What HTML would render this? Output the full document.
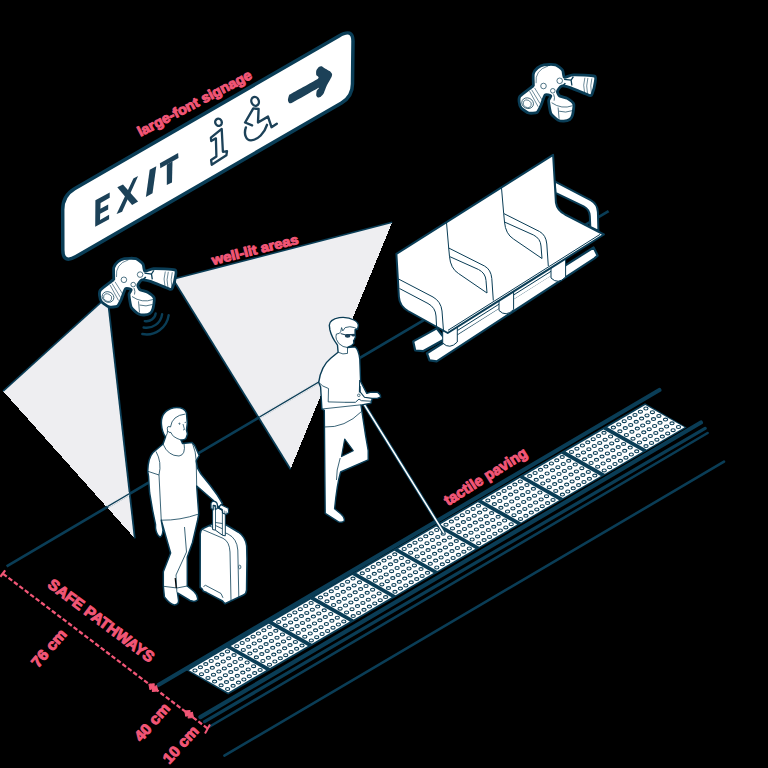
<!DOCTYPE html>
<html><head><meta charset="utf-8"><title>Accessible station</title>
<style>
html,body{margin:0;padding:0;background:#000;}
body{width:768px;height:768px;overflow:hidden;font-family:"Liberation Sans",sans-serif;}
svg{display:block}
</style></head><body>
<svg width="768" height="768" viewBox="0 0 768 768">
<rect width="768" height="768" fill="#000"/>
<polygon points="104,299.6 3.1,391.2 134.8,538.4 108.3,304" fill="#eeeef1" shape-rendering="crispEdges"/>
<polyline points="3.1,391.2 104,299.6" fill="none" stroke="#0a3d56" stroke-width="1.6"/>
<polyline points="108.3,304 134.8,538.4" fill="none" stroke="#0a3d56" stroke-width="1.8"/>
<polygon points="175.5,278.6 392.2,222.3 290.5,469.2 175.5,283.2" fill="#eeeef1" shape-rendering="crispEdges"/>
<polyline points="392.2,222.3 175.5,278.6" fill="none" stroke="#0a3d56" stroke-width="1.6"/><polyline points="175.5,283.2 290.5,469.2" fill="none" stroke="#0a3d56" stroke-width="1.7"/>
<line x1="6.6" y1="566.4" x2="608.6" y2="211.1" stroke="#0a3d56" stroke-width="2.7"/>
<clipPath id="cl1"><polygon points="104,303.5 4.5,391 134,536 107.6,306"/><polygon points="177,280 390.5,224 290.5,467 177,284.5"/></clipPath>
<g clip-path="url(#cl1)"><line x1="5" y1="567" x2="608.6" y2="211.1" stroke="#eeeef1" stroke-width="3.4"/><line x1="5" y1="567" x2="608.6" y2="211.1" stroke="#0a3d56" stroke-width="1.3"/></g>
<polygon points="413.2,341.4 436.7,328.4 445.0,339.0 423.0,351.2 415.2,350.5" fill="#ffffff" stroke="#0a3d56" stroke-width="2.2" stroke-linejoin="round"/>
<line x1="431" y1="347.5" x2="442" y2="341.2" stroke="#0a3d56" stroke-width="1" stroke-dasharray="1 1.2"/>
<polygon points="426.9,353.2 593.6,247.5 597.6,255.6 594.5,258.3 436.7,361.4 429.5,360.3" fill="#ffffff" stroke="#0a3d56" stroke-width="2.2" stroke-linejoin="round"/>
<polygon points="450.0,331.0 553.0,266.5 553.0,274.5 450.0,339.0" fill="#ffffff"/>
<path d="M457.3,330.6 L551,271.3" stroke="#0a3d56" stroke-width="1" fill="none"/>
<path d="M442.7,331.5 L442.7,343.0 Q449.7,350.0 457.3,342.0 L457.3,323.5 Z" fill="#ffffff" stroke="#0a3d56" stroke-width="1"/>
<path d="M499,299 L499,310.5 Q506,317.5 513.6,309.5 L513.6,291 Z" fill="#ffffff" stroke="#0a3d56" stroke-width="1"/>
<path d="M551,266.5 L551,278.0 Q558,285.0 565.6,277.0 L565.6,258.5 Z" fill="#ffffff" stroke="#0a3d56" stroke-width="1"/>
<path d="M554.7,181.4 L590.6,200.2 Q597.5,204 597.9,212 L598.4,231 L590.3,227 L589.8,216 Q589.5,209.5 583.6,206.4 L555.5,192.8 Z" fill="#ffffff" stroke="#0a3d56" stroke-width="2" stroke-linejoin="round"/>
<path d="M396.4,253.8 L553.1,154.8 L555.9,202.5 Q557,210 565,214.5 L603.9,234.5 L447.7,333 L408,311 Q399.5,306 398.9,297 Z" fill="#ffffff" stroke="#0a3d56" stroke-width="2" stroke-linejoin="round"/>
<path d="M448,330.3 L600,234.4" fill="none" stroke="#0a3d56" stroke-width="1"/>
<path d="M446.5,222.5 L448.7,248.0 L484.5,266.0 Q491.0,269.5 491.8,278.5 L493.3,300.5" fill="none" stroke="#0a3d56" stroke-width="1"/>
<path d="M448.7,248.0 L449.5,256.5 Q450.5,268.5 458.5,273.5 L487.0,293.0 L486.0,280.5 Q485.5,273.0 478.5,269.5 L449.5,256.5" fill="none" stroke="#0a3d56" stroke-width="1"/>
<path d="M501.5,188 L503.7,213.5 L539.5,231.5 Q546.0,235 546.8,244 L548.3,266" fill="none" stroke="#0a3d56" stroke-width="1"/>
<path d="M503.7,213.5 L504.5,222 Q505.5,234 513.5,239 L542.0,258.5 L541.0,246 Q540.5,238.5 533.5,235 L504.5,222" fill="none" stroke="#0a3d56" stroke-width="1"/>
<path d="M398.5,279 L433,297 Q441,301.5 442,311 L443.5,331 M399.5,288.5 L428,303.5 Q435.5,307.5 436,316 L436.6,327" fill="none" stroke="#0a3d56" stroke-width="1"/>
<path d="M62.7,210 Q62.6,195.8 74.5,188.8 L339,35.9 Q352.9,27.9 353,41 L352.5,84 Q352.5,96.6 341.5,103 L76,256.6 Q62.9,264 62.8,250 Z" fill="#ffffff" stroke="#0a3d56" stroke-width="3.5" stroke-linejoin="round"/>
<polygon points="95.4,200.3 109.7,192.5 109.7,197.7 100.6,203.0 100.4,208.8 108.2,204.6 108.2,209.5 100.2,213.8 100.0,219.9 109.1,214.7 109.1,219.2 95.2,226.8" fill="#1c4158"/>
<polygon points="117.3,187.3 123.0,184.5 138.1,201.6 132.1,204.9" fill="#1c4158"/>
<polygon points="133.4,178.6 138.1,176.0 122.1,211.7 116.6,214.0" fill="#1c4158"/>
<polygon points="149.7,169.7 156.3,166.3 152.5,193.2 145.9,196.9" fill="#1c4158"/>
<polygon points="159.9,163.2 178.1,153.1 178.5,158.0 160.3,168.2" fill="#1c4158"/>
<polygon points="166.8,164.5 172.5,161.3 172.0,182.5 166.8,185.1" fill="#1c4158"/>
<ellipse cx="218.5" cy="122.3" rx="3.3" ry="3.7" fill="none" stroke="#1c4158" stroke-width="2.3" transform="rotate(-20 218.5 122.3)"/>
<polygon points="210.9,137.7 221.7,128.9 222.9,151.8 227.0,151.2 226.4,155.3 211.7,164.7 211.1,160.0 216.4,156.5 215.9,138.3 211.2,141.0" fill="none" stroke="#1c4158" stroke-width="2.3" stroke-linejoin="round"/>
<ellipse cx="255.1" cy="101.4" rx="3.7" ry="4.5" fill="none" stroke="#1c4158" stroke-width="2.3" transform="rotate(-20 255.1 101.4)"/>
<polyline points="252.1,125.4 245.1,122.5 253.3,108.4 258.6,109 258,122.5 268,116.6 271.5,127.2 276.8,123.7" fill="none" stroke="#1c4158" stroke-width="2.4" stroke-linejoin="round" stroke-linecap="round"/>
<path d="M245.9,127.4 C243.5,134 246,140.5 251,140.4 C258,140 264.5,133 267,124.8" fill="none" stroke="#1c4158" stroke-width="2.4" stroke-linecap="round"/>
<path d="M287.90,100.00 C287.90,99.21 288.74,95.71 289.20,95.00 C289.66,94.29 289.63,94.53 292.50,92.90 C295.37,91.28 315.52,80.54 317.90,78.75 C320.27,76.96 316.42,75.80 316.25,75.00 C316.08,74.20 316.00,71.59 316.25,70.80 C316.50,70.01 318.20,67.55 318.75,67.10 C319.30,66.64 321.15,66.17 321.70,66.25 C322.25,66.33 323.37,67.40 324.20,67.90 C325.03,68.40 329.21,70.62 330.00,71.25 C330.79,71.88 331.98,73.58 332.10,74.20 C332.23,74.83 331.79,76.34 331.25,77.50 C330.71,78.66 327.45,84.22 326.70,85.80 C325.95,87.38 324.34,92.21 323.75,93.30 C323.16,94.39 321.38,96.28 320.80,96.70 C320.22,97.12 318.35,97.63 317.90,97.50 C317.44,97.37 316.37,96.07 316.25,95.40 C316.13,94.73 316.50,91.55 316.70,90.80 C316.90,90.05 320.72,86.73 318.30,87.90 C315.88,89.07 295.41,101.00 292.50,102.50 C289.59,104.00 289.66,103.15 289.20,102.90 C288.74,102.65 287.90,100.79 287.90,100.00 Z" fill="#1c4158"/>
<g transform="translate(0 0)">
<path d="M113.75,278.10 C113.81,276.87 113.33,269.24 113.75,267.60 C114.17,265.96 116.84,262.60 117.90,261.70 C118.96,260.80 122.49,258.91 124.30,258.60 C126.11,258.29 134.13,258.05 136.00,258.60 C137.87,259.15 142.12,262.85 143.00,264.10 C143.88,265.35 143.74,270.64 144.80,271.10 C145.86,271.56 150.59,268.87 153.60,268.75 C156.61,268.63 172.72,269.07 174.90,269.90 C177.08,270.72 175.63,275.24 175.40,277.00 C175.17,278.76 173.14,286.27 172.60,287.50 C172.06,288.73 172.13,289.89 170.00,289.30 C167.87,288.71 154.06,282.54 151.25,281.60 C148.44,280.66 143.25,279.54 141.90,279.90 C140.56,280.26 137.98,284.21 137.80,285.20 C137.62,286.19 139.11,289.10 140.10,289.80 C141.09,290.50 146.29,291.38 147.70,292.20 C149.11,293.02 153.67,296.36 154.20,298.00 C154.73,299.64 153.41,307.07 153.00,308.60 C152.59,310.13 150.98,312.66 150.10,313.30 C149.22,313.94 145.37,314.94 144.20,315.00 C143.03,315.06 139.69,314.66 138.40,313.90 C137.11,313.14 132.24,309.34 131.30,307.40 C130.36,305.46 129.00,296.26 129.00,294.50 C129.00,292.74 131.65,290.38 131.30,289.80 C130.95,289.22 126.49,287.76 125.50,288.70 C124.51,289.64 122.22,297.44 121.40,299.20 C120.58,300.95 118.53,305.49 117.30,306.25 C116.07,307.01 110.67,307.25 109.10,306.80 C107.53,306.36 102.56,302.91 101.60,301.80 C100.64,300.69 99.62,296.88 99.50,295.70 C99.38,294.52 99.03,291.58 100.40,290.00 C101.77,288.42 111.87,281.09 113.20,279.90 C114.53,278.71 113.69,279.33 113.75,278.10 Z" fill="#ffffff" stroke="#0a3d56" stroke-width="2.8" stroke-linejoin="round"/>
<ellipse cx="108" cy="297" rx="6" ry="5.2" fill="none" stroke="#0a3d56" stroke-width="0.7" transform="rotate(25 108 297)"/>
<ellipse cx="107.6" cy="297.6" rx="4.2" ry="3.6" fill="none" stroke="#0a3d56" stroke-width="0.6" transform="rotate(25 107.6 297.6)"/>
<path d="M112,283.5 L120.5,297.5 M115,281.8 L123,294.5 M110,285 L118.5,300.5" fill="none" stroke="#0a3d56" stroke-width="0.6"/>
<path d="M116.5,277 Q115,264 128.5,259.8" fill="none" stroke="#0a3d56" stroke-width="0.6"/>
<circle cx="140.1" cy="274.6" r="2.8" fill="#ffffff" stroke="#0a3d56" stroke-width="0.7"/>
<circle cx="123.9" cy="279.8" r="2.8" fill="#ffffff" stroke="#0a3d56" stroke-width="0.7"/>
<circle cx="133.2" cy="284.6" r="2.3" fill="#ffffff" stroke="#0a3d56" stroke-width="0.7"/>
<path d="M165.3,271.5 Q163,279 165,286.5 M168.3,271.8 Q166,279.5 168,288 M172.3,272.2 Q170.3,279.5 171.8,287" fill="none" stroke="#0a3d56" stroke-width="0.6"/>
<path d="M144.5,273.2 L151.5,274 L152.3,279.3 M151.5,274 L153.8,270.5" fill="none" stroke="#0a3d56" stroke-width="1.3"/>
<path d="M143.2,279.6 L145.8,277" fill="none" stroke="#0a3d56" stroke-width="1.6"/>
<path d="M132,296.5 Q142,303.5 153,299.5 M138.5,301.3 L139.5,312.5 M139.5,305 Q146,307 152.5,304.5" fill="none" stroke="#0a3d56" stroke-width="0.7"/>
<path d="M134,288 Q135.5,291.5 134.5,294.5" fill="none" stroke="#0a3d56" stroke-width="0.7"/>
</g>
<g transform="translate(419.6 -193.8)">
<path d="M113.75,278.10 C113.81,276.87 113.33,269.24 113.75,267.60 C114.17,265.96 116.84,262.60 117.90,261.70 C118.96,260.80 122.49,258.91 124.30,258.60 C126.11,258.29 134.13,258.05 136.00,258.60 C137.87,259.15 142.12,262.85 143.00,264.10 C143.88,265.35 143.74,270.64 144.80,271.10 C145.86,271.56 150.59,268.87 153.60,268.75 C156.61,268.63 172.72,269.07 174.90,269.90 C177.08,270.72 175.63,275.24 175.40,277.00 C175.17,278.76 173.14,286.27 172.60,287.50 C172.06,288.73 172.13,289.89 170.00,289.30 C167.87,288.71 154.06,282.54 151.25,281.60 C148.44,280.66 143.25,279.54 141.90,279.90 C140.56,280.26 137.98,284.21 137.80,285.20 C137.62,286.19 139.11,289.10 140.10,289.80 C141.09,290.50 146.29,291.38 147.70,292.20 C149.11,293.02 153.67,296.36 154.20,298.00 C154.73,299.64 153.41,307.07 153.00,308.60 C152.59,310.13 150.98,312.66 150.10,313.30 C149.22,313.94 145.37,314.94 144.20,315.00 C143.03,315.06 139.69,314.66 138.40,313.90 C137.11,313.14 132.24,309.34 131.30,307.40 C130.36,305.46 129.00,296.26 129.00,294.50 C129.00,292.74 131.65,290.38 131.30,289.80 C130.95,289.22 126.49,287.76 125.50,288.70 C124.51,289.64 122.22,297.44 121.40,299.20 C120.58,300.95 118.53,305.49 117.30,306.25 C116.07,307.01 110.67,307.25 109.10,306.80 C107.53,306.36 102.56,302.91 101.60,301.80 C100.64,300.69 99.62,296.88 99.50,295.70 C99.38,294.52 99.03,291.58 100.40,290.00 C101.77,288.42 111.87,281.09 113.20,279.90 C114.53,278.71 113.69,279.33 113.75,278.10 Z" fill="#ffffff" stroke="#0a3d56" stroke-width="2.8" stroke-linejoin="round"/>
<ellipse cx="108" cy="297" rx="6" ry="5.2" fill="none" stroke="#0a3d56" stroke-width="0.7" transform="rotate(25 108 297)"/>
<ellipse cx="107.6" cy="297.6" rx="4.2" ry="3.6" fill="none" stroke="#0a3d56" stroke-width="0.6" transform="rotate(25 107.6 297.6)"/>
<path d="M112,283.5 L120.5,297.5 M115,281.8 L123,294.5 M110,285 L118.5,300.5" fill="none" stroke="#0a3d56" stroke-width="0.6"/>
<path d="M116.5,277 Q115,264 128.5,259.8" fill="none" stroke="#0a3d56" stroke-width="0.6"/>
<circle cx="140.1" cy="274.6" r="2.8" fill="#ffffff" stroke="#0a3d56" stroke-width="0.7"/>
<circle cx="123.9" cy="279.8" r="2.8" fill="#ffffff" stroke="#0a3d56" stroke-width="0.7"/>
<circle cx="133.2" cy="284.6" r="2.3" fill="#ffffff" stroke="#0a3d56" stroke-width="0.7"/>
<path d="M165.3,271.5 Q163,279 165,286.5 M168.3,271.8 Q166,279.5 168,288 M172.3,272.2 Q170.3,279.5 171.8,287" fill="none" stroke="#0a3d56" stroke-width="0.6"/>
<path d="M144.5,273.2 L151.5,274 L152.3,279.3 M151.5,274 L153.8,270.5" fill="none" stroke="#0a3d56" stroke-width="1.3"/>
<path d="M143.2,279.6 L145.8,277" fill="none" stroke="#0a3d56" stroke-width="1.6"/>
<path d="M132,296.5 Q142,303.5 153,299.5 M138.5,301.3 L139.5,312.5 M139.5,305 Q146,307 152.5,304.5" fill="none" stroke="#0a3d56" stroke-width="0.7"/>
<path d="M134,288 Q135.5,291.5 134.5,294.5" fill="none" stroke="#0a3d56" stroke-width="0.7"/>
</g>
<path d="M155.7,313.4 A9.2,9.2 0 0 1 144.8,321.1" fill="none" stroke="#0a3d56" stroke-width="2.4" stroke-linecap="round"/>
<path d="M162.1,314.3 A15.7,15.7 0 0 1 143.6,327.5" fill="none" stroke="#0a3d56" stroke-width="2.4" stroke-linecap="round"/>
<path d="M168.7,315.2 A22.3,22.3 0 0 1 142.3,334.0" fill="none" stroke="#0a3d56" stroke-width="2.4" stroke-linecap="round"/>
<polygon points="186.0,669.9 645.0,403.2 686.7,427.4 228.2,694.6" fill="#0a3d56"/>
<polygon points="189.0,670.2 226.9,648.0 266.1,670.2 228.2,692.4" fill="#ffffff"/>
<ellipse cx="195.0" cy="670.5" rx="2.1" ry="1.45" fill="none" stroke="#0a3d56" stroke-width="1.1"/>
<ellipse cx="201.5" cy="674.2" rx="2.1" ry="1.45" fill="none" stroke="#0a3d56" stroke-width="1.1"/>
<ellipse cx="208.0" cy="677.9" rx="2.1" ry="1.45" fill="none" stroke="#0a3d56" stroke-width="1.1"/>
<ellipse cx="214.6" cy="681.6" rx="2.1" ry="1.45" fill="none" stroke="#0a3d56" stroke-width="1.1"/>
<ellipse cx="221.1" cy="685.3" rx="2.1" ry="1.45" fill="none" stroke="#0a3d56" stroke-width="1.1"/>
<ellipse cx="227.6" cy="689.0" rx="2.1" ry="1.45" fill="none" stroke="#0a3d56" stroke-width="1.1"/>
<ellipse cx="200.4" cy="667.3" rx="2.1" ry="1.45" fill="none" stroke="#0a3d56" stroke-width="1.1"/>
<ellipse cx="206.9" cy="671.0" rx="2.1" ry="1.45" fill="none" stroke="#0a3d56" stroke-width="1.1"/>
<ellipse cx="213.5" cy="674.7" rx="2.1" ry="1.45" fill="none" stroke="#0a3d56" stroke-width="1.1"/>
<ellipse cx="220.0" cy="678.4" rx="2.1" ry="1.45" fill="none" stroke="#0a3d56" stroke-width="1.1"/>
<ellipse cx="226.5" cy="682.1" rx="2.1" ry="1.45" fill="none" stroke="#0a3d56" stroke-width="1.1"/>
<ellipse cx="233.1" cy="685.8" rx="2.1" ry="1.45" fill="none" stroke="#0a3d56" stroke-width="1.1"/>
<ellipse cx="205.8" cy="664.1" rx="2.1" ry="1.45" fill="none" stroke="#0a3d56" stroke-width="1.1"/>
<ellipse cx="212.3" cy="667.8" rx="2.1" ry="1.45" fill="none" stroke="#0a3d56" stroke-width="1.1"/>
<ellipse cx="218.9" cy="671.5" rx="2.1" ry="1.45" fill="none" stroke="#0a3d56" stroke-width="1.1"/>
<ellipse cx="225.4" cy="675.2" rx="2.1" ry="1.45" fill="none" stroke="#0a3d56" stroke-width="1.1"/>
<ellipse cx="231.9" cy="678.9" rx="2.1" ry="1.45" fill="none" stroke="#0a3d56" stroke-width="1.1"/>
<ellipse cx="238.5" cy="682.6" rx="2.1" ry="1.45" fill="none" stroke="#0a3d56" stroke-width="1.1"/>
<ellipse cx="211.2" cy="661.0" rx="2.1" ry="1.45" fill="none" stroke="#0a3d56" stroke-width="1.1"/>
<ellipse cx="217.8" cy="664.6" rx="2.1" ry="1.45" fill="none" stroke="#0a3d56" stroke-width="1.1"/>
<ellipse cx="224.3" cy="668.4" rx="2.1" ry="1.45" fill="none" stroke="#0a3d56" stroke-width="1.1"/>
<ellipse cx="230.8" cy="672.1" rx="2.1" ry="1.45" fill="none" stroke="#0a3d56" stroke-width="1.1"/>
<ellipse cx="237.3" cy="675.8" rx="2.1" ry="1.45" fill="none" stroke="#0a3d56" stroke-width="1.1"/>
<ellipse cx="243.9" cy="679.5" rx="2.1" ry="1.45" fill="none" stroke="#0a3d56" stroke-width="1.1"/>
<ellipse cx="216.6" cy="657.8" rx="2.1" ry="1.45" fill="none" stroke="#0a3d56" stroke-width="1.1"/>
<ellipse cx="223.2" cy="661.5" rx="2.1" ry="1.45" fill="none" stroke="#0a3d56" stroke-width="1.1"/>
<ellipse cx="229.7" cy="665.2" rx="2.1" ry="1.45" fill="none" stroke="#0a3d56" stroke-width="1.1"/>
<ellipse cx="236.2" cy="668.9" rx="2.1" ry="1.45" fill="none" stroke="#0a3d56" stroke-width="1.1"/>
<ellipse cx="242.8" cy="672.6" rx="2.1" ry="1.45" fill="none" stroke="#0a3d56" stroke-width="1.1"/>
<ellipse cx="249.3" cy="676.3" rx="2.1" ry="1.45" fill="none" stroke="#0a3d56" stroke-width="1.1"/>
<ellipse cx="222.0" cy="654.6" rx="2.1" ry="1.45" fill="none" stroke="#0a3d56" stroke-width="1.1"/>
<ellipse cx="228.6" cy="658.3" rx="2.1" ry="1.45" fill="none" stroke="#0a3d56" stroke-width="1.1"/>
<ellipse cx="235.1" cy="662.0" rx="2.1" ry="1.45" fill="none" stroke="#0a3d56" stroke-width="1.1"/>
<ellipse cx="241.6" cy="665.7" rx="2.1" ry="1.45" fill="none" stroke="#0a3d56" stroke-width="1.1"/>
<ellipse cx="248.2" cy="669.4" rx="2.1" ry="1.45" fill="none" stroke="#0a3d56" stroke-width="1.1"/>
<ellipse cx="254.7" cy="673.1" rx="2.1" ry="1.45" fill="none" stroke="#0a3d56" stroke-width="1.1"/>
<ellipse cx="227.5" cy="651.4" rx="2.1" ry="1.45" fill="none" stroke="#0a3d56" stroke-width="1.1"/>
<ellipse cx="234.0" cy="655.1" rx="2.1" ry="1.45" fill="none" stroke="#0a3d56" stroke-width="1.1"/>
<ellipse cx="240.5" cy="658.8" rx="2.1" ry="1.45" fill="none" stroke="#0a3d56" stroke-width="1.1"/>
<ellipse cx="247.1" cy="662.5" rx="2.1" ry="1.45" fill="none" stroke="#0a3d56" stroke-width="1.1"/>
<ellipse cx="253.6" cy="666.2" rx="2.1" ry="1.45" fill="none" stroke="#0a3d56" stroke-width="1.1"/>
<ellipse cx="260.1" cy="669.9" rx="2.1" ry="1.45" fill="none" stroke="#0a3d56" stroke-width="1.1"/>
<polygon points="230.8,645.9 268.7,623.7 307.9,645.9 270.0,668.1" fill="#ffffff"/>
<ellipse cx="236.8" cy="646.2" rx="2.1" ry="1.45" fill="none" stroke="#0a3d56" stroke-width="1.1"/>
<ellipse cx="243.3" cy="649.9" rx="2.1" ry="1.45" fill="none" stroke="#0a3d56" stroke-width="1.1"/>
<ellipse cx="249.9" cy="653.6" rx="2.1" ry="1.45" fill="none" stroke="#0a3d56" stroke-width="1.1"/>
<ellipse cx="256.4" cy="657.3" rx="2.1" ry="1.45" fill="none" stroke="#0a3d56" stroke-width="1.1"/>
<ellipse cx="262.9" cy="661.0" rx="2.1" ry="1.45" fill="none" stroke="#0a3d56" stroke-width="1.1"/>
<ellipse cx="269.5" cy="664.7" rx="2.1" ry="1.45" fill="none" stroke="#0a3d56" stroke-width="1.1"/>
<ellipse cx="242.2" cy="643.0" rx="2.1" ry="1.45" fill="none" stroke="#0a3d56" stroke-width="1.1"/>
<ellipse cx="248.8" cy="646.7" rx="2.1" ry="1.45" fill="none" stroke="#0a3d56" stroke-width="1.1"/>
<ellipse cx="255.3" cy="650.4" rx="2.1" ry="1.45" fill="none" stroke="#0a3d56" stroke-width="1.1"/>
<ellipse cx="261.8" cy="654.1" rx="2.1" ry="1.45" fill="none" stroke="#0a3d56" stroke-width="1.1"/>
<ellipse cx="268.4" cy="657.8" rx="2.1" ry="1.45" fill="none" stroke="#0a3d56" stroke-width="1.1"/>
<ellipse cx="274.9" cy="661.5" rx="2.1" ry="1.45" fill="none" stroke="#0a3d56" stroke-width="1.1"/>
<ellipse cx="247.6" cy="639.8" rx="2.1" ry="1.45" fill="none" stroke="#0a3d56" stroke-width="1.1"/>
<ellipse cx="254.2" cy="643.5" rx="2.1" ry="1.45" fill="none" stroke="#0a3d56" stroke-width="1.1"/>
<ellipse cx="260.7" cy="647.2" rx="2.1" ry="1.45" fill="none" stroke="#0a3d56" stroke-width="1.1"/>
<ellipse cx="267.2" cy="650.9" rx="2.1" ry="1.45" fill="none" stroke="#0a3d56" stroke-width="1.1"/>
<ellipse cx="273.8" cy="654.6" rx="2.1" ry="1.45" fill="none" stroke="#0a3d56" stroke-width="1.1"/>
<ellipse cx="280.3" cy="658.3" rx="2.1" ry="1.45" fill="none" stroke="#0a3d56" stroke-width="1.1"/>
<ellipse cx="253.1" cy="636.7" rx="2.1" ry="1.45" fill="none" stroke="#0a3d56" stroke-width="1.1"/>
<ellipse cx="259.6" cy="640.4" rx="2.1" ry="1.45" fill="none" stroke="#0a3d56" stroke-width="1.1"/>
<ellipse cx="266.1" cy="644.1" rx="2.1" ry="1.45" fill="none" stroke="#0a3d56" stroke-width="1.1"/>
<ellipse cx="272.7" cy="647.8" rx="2.1" ry="1.45" fill="none" stroke="#0a3d56" stroke-width="1.1"/>
<ellipse cx="279.2" cy="651.5" rx="2.1" ry="1.45" fill="none" stroke="#0a3d56" stroke-width="1.1"/>
<ellipse cx="285.7" cy="655.2" rx="2.1" ry="1.45" fill="none" stroke="#0a3d56" stroke-width="1.1"/>
<ellipse cx="258.5" cy="633.5" rx="2.1" ry="1.45" fill="none" stroke="#0a3d56" stroke-width="1.1"/>
<ellipse cx="265.0" cy="637.2" rx="2.1" ry="1.45" fill="none" stroke="#0a3d56" stroke-width="1.1"/>
<ellipse cx="271.5" cy="640.9" rx="2.1" ry="1.45" fill="none" stroke="#0a3d56" stroke-width="1.1"/>
<ellipse cx="278.1" cy="644.6" rx="2.1" ry="1.45" fill="none" stroke="#0a3d56" stroke-width="1.1"/>
<ellipse cx="284.6" cy="648.3" rx="2.1" ry="1.45" fill="none" stroke="#0a3d56" stroke-width="1.1"/>
<ellipse cx="291.1" cy="652.0" rx="2.1" ry="1.45" fill="none" stroke="#0a3d56" stroke-width="1.1"/>
<ellipse cx="263.9" cy="630.3" rx="2.1" ry="1.45" fill="none" stroke="#0a3d56" stroke-width="1.1"/>
<ellipse cx="270.4" cy="634.0" rx="2.1" ry="1.45" fill="none" stroke="#0a3d56" stroke-width="1.1"/>
<ellipse cx="277.0" cy="637.7" rx="2.1" ry="1.45" fill="none" stroke="#0a3d56" stroke-width="1.1"/>
<ellipse cx="283.5" cy="641.4" rx="2.1" ry="1.45" fill="none" stroke="#0a3d56" stroke-width="1.1"/>
<ellipse cx="290.0" cy="645.1" rx="2.1" ry="1.45" fill="none" stroke="#0a3d56" stroke-width="1.1"/>
<ellipse cx="296.6" cy="648.8" rx="2.1" ry="1.45" fill="none" stroke="#0a3d56" stroke-width="1.1"/>
<ellipse cx="269.3" cy="627.1" rx="2.1" ry="1.45" fill="none" stroke="#0a3d56" stroke-width="1.1"/>
<ellipse cx="275.8" cy="630.8" rx="2.1" ry="1.45" fill="none" stroke="#0a3d56" stroke-width="1.1"/>
<ellipse cx="282.4" cy="634.5" rx="2.1" ry="1.45" fill="none" stroke="#0a3d56" stroke-width="1.1"/>
<ellipse cx="288.9" cy="638.2" rx="2.1" ry="1.45" fill="none" stroke="#0a3d56" stroke-width="1.1"/>
<ellipse cx="295.4" cy="641.9" rx="2.1" ry="1.45" fill="none" stroke="#0a3d56" stroke-width="1.1"/>
<ellipse cx="302.0" cy="645.6" rx="2.1" ry="1.45" fill="none" stroke="#0a3d56" stroke-width="1.1"/>
<polygon points="272.7,621.6 310.6,599.4 349.8,621.6 311.9,643.8" fill="#ffffff"/>
<ellipse cx="278.7" cy="621.9" rx="2.1" ry="1.45" fill="none" stroke="#0a3d56" stroke-width="1.1"/>
<ellipse cx="285.2" cy="625.6" rx="2.1" ry="1.45" fill="none" stroke="#0a3d56" stroke-width="1.1"/>
<ellipse cx="291.7" cy="629.3" rx="2.1" ry="1.45" fill="none" stroke="#0a3d56" stroke-width="1.1"/>
<ellipse cx="298.3" cy="633.0" rx="2.1" ry="1.45" fill="none" stroke="#0a3d56" stroke-width="1.1"/>
<ellipse cx="304.8" cy="636.7" rx="2.1" ry="1.45" fill="none" stroke="#0a3d56" stroke-width="1.1"/>
<ellipse cx="311.3" cy="640.4" rx="2.1" ry="1.45" fill="none" stroke="#0a3d56" stroke-width="1.1"/>
<ellipse cx="284.1" cy="618.7" rx="2.1" ry="1.45" fill="none" stroke="#0a3d56" stroke-width="1.1"/>
<ellipse cx="290.6" cy="622.4" rx="2.1" ry="1.45" fill="none" stroke="#0a3d56" stroke-width="1.1"/>
<ellipse cx="297.1" cy="626.1" rx="2.1" ry="1.45" fill="none" stroke="#0a3d56" stroke-width="1.1"/>
<ellipse cx="303.7" cy="629.8" rx="2.1" ry="1.45" fill="none" stroke="#0a3d56" stroke-width="1.1"/>
<ellipse cx="310.2" cy="633.5" rx="2.1" ry="1.45" fill="none" stroke="#0a3d56" stroke-width="1.1"/>
<ellipse cx="316.7" cy="637.2" rx="2.1" ry="1.45" fill="none" stroke="#0a3d56" stroke-width="1.1"/>
<ellipse cx="289.5" cy="615.5" rx="2.1" ry="1.45" fill="none" stroke="#0a3d56" stroke-width="1.1"/>
<ellipse cx="296.0" cy="619.2" rx="2.1" ry="1.45" fill="none" stroke="#0a3d56" stroke-width="1.1"/>
<ellipse cx="302.5" cy="622.9" rx="2.1" ry="1.45" fill="none" stroke="#0a3d56" stroke-width="1.1"/>
<ellipse cx="309.1" cy="626.6" rx="2.1" ry="1.45" fill="none" stroke="#0a3d56" stroke-width="1.1"/>
<ellipse cx="315.6" cy="630.3" rx="2.1" ry="1.45" fill="none" stroke="#0a3d56" stroke-width="1.1"/>
<ellipse cx="322.1" cy="634.0" rx="2.1" ry="1.45" fill="none" stroke="#0a3d56" stroke-width="1.1"/>
<ellipse cx="294.9" cy="612.4" rx="2.1" ry="1.45" fill="none" stroke="#0a3d56" stroke-width="1.1"/>
<ellipse cx="301.4" cy="616.1" rx="2.1" ry="1.45" fill="none" stroke="#0a3d56" stroke-width="1.1"/>
<ellipse cx="308.0" cy="619.8" rx="2.1" ry="1.45" fill="none" stroke="#0a3d56" stroke-width="1.1"/>
<ellipse cx="314.5" cy="623.5" rx="2.1" ry="1.45" fill="none" stroke="#0a3d56" stroke-width="1.1"/>
<ellipse cx="321.0" cy="627.2" rx="2.1" ry="1.45" fill="none" stroke="#0a3d56" stroke-width="1.1"/>
<ellipse cx="327.6" cy="630.9" rx="2.1" ry="1.45" fill="none" stroke="#0a3d56" stroke-width="1.1"/>
<ellipse cx="300.3" cy="609.2" rx="2.1" ry="1.45" fill="none" stroke="#0a3d56" stroke-width="1.1"/>
<ellipse cx="306.8" cy="612.9" rx="2.1" ry="1.45" fill="none" stroke="#0a3d56" stroke-width="1.1"/>
<ellipse cx="313.4" cy="616.6" rx="2.1" ry="1.45" fill="none" stroke="#0a3d56" stroke-width="1.1"/>
<ellipse cx="319.9" cy="620.3" rx="2.1" ry="1.45" fill="none" stroke="#0a3d56" stroke-width="1.1"/>
<ellipse cx="326.4" cy="624.0" rx="2.1" ry="1.45" fill="none" stroke="#0a3d56" stroke-width="1.1"/>
<ellipse cx="333.0" cy="627.7" rx="2.1" ry="1.45" fill="none" stroke="#0a3d56" stroke-width="1.1"/>
<ellipse cx="305.7" cy="606.0" rx="2.1" ry="1.45" fill="none" stroke="#0a3d56" stroke-width="1.1"/>
<ellipse cx="312.3" cy="609.7" rx="2.1" ry="1.45" fill="none" stroke="#0a3d56" stroke-width="1.1"/>
<ellipse cx="318.8" cy="613.4" rx="2.1" ry="1.45" fill="none" stroke="#0a3d56" stroke-width="1.1"/>
<ellipse cx="325.3" cy="617.1" rx="2.1" ry="1.45" fill="none" stroke="#0a3d56" stroke-width="1.1"/>
<ellipse cx="331.9" cy="620.8" rx="2.1" ry="1.45" fill="none" stroke="#0a3d56" stroke-width="1.1"/>
<ellipse cx="338.4" cy="624.5" rx="2.1" ry="1.45" fill="none" stroke="#0a3d56" stroke-width="1.1"/>
<ellipse cx="311.1" cy="602.9" rx="2.1" ry="1.45" fill="none" stroke="#0a3d56" stroke-width="1.1"/>
<ellipse cx="317.7" cy="606.6" rx="2.1" ry="1.45" fill="none" stroke="#0a3d56" stroke-width="1.1"/>
<ellipse cx="324.2" cy="610.3" rx="2.1" ry="1.45" fill="none" stroke="#0a3d56" stroke-width="1.1"/>
<ellipse cx="330.7" cy="614.0" rx="2.1" ry="1.45" fill="none" stroke="#0a3d56" stroke-width="1.1"/>
<ellipse cx="337.3" cy="617.7" rx="2.1" ry="1.45" fill="none" stroke="#0a3d56" stroke-width="1.1"/>
<ellipse cx="343.8" cy="621.4" rx="2.1" ry="1.45" fill="none" stroke="#0a3d56" stroke-width="1.1"/>
<polygon points="314.5,597.3 352.4,575.1 391.6,597.3 353.7,619.5" fill="#ffffff"/>
<ellipse cx="320.5" cy="597.6" rx="2.1" ry="1.45" fill="none" stroke="#0a3d56" stroke-width="1.1"/>
<ellipse cx="327.0" cy="601.3" rx="2.1" ry="1.45" fill="none" stroke="#0a3d56" stroke-width="1.1"/>
<ellipse cx="333.6" cy="605.0" rx="2.1" ry="1.45" fill="none" stroke="#0a3d56" stroke-width="1.1"/>
<ellipse cx="340.1" cy="608.7" rx="2.1" ry="1.45" fill="none" stroke="#0a3d56" stroke-width="1.1"/>
<ellipse cx="346.6" cy="612.4" rx="2.1" ry="1.45" fill="none" stroke="#0a3d56" stroke-width="1.1"/>
<ellipse cx="353.2" cy="616.1" rx="2.1" ry="1.45" fill="none" stroke="#0a3d56" stroke-width="1.1"/>
<ellipse cx="325.9" cy="594.4" rx="2.1" ry="1.45" fill="none" stroke="#0a3d56" stroke-width="1.1"/>
<ellipse cx="332.4" cy="598.1" rx="2.1" ry="1.45" fill="none" stroke="#0a3d56" stroke-width="1.1"/>
<ellipse cx="339.0" cy="601.8" rx="2.1" ry="1.45" fill="none" stroke="#0a3d56" stroke-width="1.1"/>
<ellipse cx="345.5" cy="605.5" rx="2.1" ry="1.45" fill="none" stroke="#0a3d56" stroke-width="1.1"/>
<ellipse cx="352.0" cy="609.2" rx="2.1" ry="1.45" fill="none" stroke="#0a3d56" stroke-width="1.1"/>
<ellipse cx="358.6" cy="612.9" rx="2.1" ry="1.45" fill="none" stroke="#0a3d56" stroke-width="1.1"/>
<ellipse cx="331.3" cy="591.3" rx="2.1" ry="1.45" fill="none" stroke="#0a3d56" stroke-width="1.1"/>
<ellipse cx="337.9" cy="595.0" rx="2.1" ry="1.45" fill="none" stroke="#0a3d56" stroke-width="1.1"/>
<ellipse cx="344.4" cy="598.7" rx="2.1" ry="1.45" fill="none" stroke="#0a3d56" stroke-width="1.1"/>
<ellipse cx="350.9" cy="602.4" rx="2.1" ry="1.45" fill="none" stroke="#0a3d56" stroke-width="1.1"/>
<ellipse cx="357.5" cy="606.1" rx="2.1" ry="1.45" fill="none" stroke="#0a3d56" stroke-width="1.1"/>
<ellipse cx="364.0" cy="609.8" rx="2.1" ry="1.45" fill="none" stroke="#0a3d56" stroke-width="1.1"/>
<ellipse cx="336.7" cy="588.1" rx="2.1" ry="1.45" fill="none" stroke="#0a3d56" stroke-width="1.1"/>
<ellipse cx="343.3" cy="591.8" rx="2.1" ry="1.45" fill="none" stroke="#0a3d56" stroke-width="1.1"/>
<ellipse cx="349.8" cy="595.5" rx="2.1" ry="1.45" fill="none" stroke="#0a3d56" stroke-width="1.1"/>
<ellipse cx="356.3" cy="599.2" rx="2.1" ry="1.45" fill="none" stroke="#0a3d56" stroke-width="1.1"/>
<ellipse cx="362.9" cy="602.9" rx="2.1" ry="1.45" fill="none" stroke="#0a3d56" stroke-width="1.1"/>
<ellipse cx="369.4" cy="606.6" rx="2.1" ry="1.45" fill="none" stroke="#0a3d56" stroke-width="1.1"/>
<ellipse cx="342.2" cy="584.9" rx="2.1" ry="1.45" fill="none" stroke="#0a3d56" stroke-width="1.1"/>
<ellipse cx="348.7" cy="588.6" rx="2.1" ry="1.45" fill="none" stroke="#0a3d56" stroke-width="1.1"/>
<ellipse cx="355.2" cy="592.3" rx="2.1" ry="1.45" fill="none" stroke="#0a3d56" stroke-width="1.1"/>
<ellipse cx="361.8" cy="596.0" rx="2.1" ry="1.45" fill="none" stroke="#0a3d56" stroke-width="1.1"/>
<ellipse cx="368.3" cy="599.7" rx="2.1" ry="1.45" fill="none" stroke="#0a3d56" stroke-width="1.1"/>
<ellipse cx="374.8" cy="603.4" rx="2.1" ry="1.45" fill="none" stroke="#0a3d56" stroke-width="1.1"/>
<ellipse cx="347.6" cy="581.7" rx="2.1" ry="1.45" fill="none" stroke="#0a3d56" stroke-width="1.1"/>
<ellipse cx="354.1" cy="585.4" rx="2.1" ry="1.45" fill="none" stroke="#0a3d56" stroke-width="1.1"/>
<ellipse cx="360.6" cy="589.1" rx="2.1" ry="1.45" fill="none" stroke="#0a3d56" stroke-width="1.1"/>
<ellipse cx="367.2" cy="592.8" rx="2.1" ry="1.45" fill="none" stroke="#0a3d56" stroke-width="1.1"/>
<ellipse cx="373.7" cy="596.5" rx="2.1" ry="1.45" fill="none" stroke="#0a3d56" stroke-width="1.1"/>
<ellipse cx="380.2" cy="600.2" rx="2.1" ry="1.45" fill="none" stroke="#0a3d56" stroke-width="1.1"/>
<ellipse cx="353.0" cy="578.6" rx="2.1" ry="1.45" fill="none" stroke="#0a3d56" stroke-width="1.1"/>
<ellipse cx="359.5" cy="582.3" rx="2.1" ry="1.45" fill="none" stroke="#0a3d56" stroke-width="1.1"/>
<ellipse cx="366.0" cy="586.0" rx="2.1" ry="1.45" fill="none" stroke="#0a3d56" stroke-width="1.1"/>
<ellipse cx="372.6" cy="589.7" rx="2.1" ry="1.45" fill="none" stroke="#0a3d56" stroke-width="1.1"/>
<ellipse cx="379.1" cy="593.4" rx="2.1" ry="1.45" fill="none" stroke="#0a3d56" stroke-width="1.1"/>
<ellipse cx="385.6" cy="597.1" rx="2.1" ry="1.45" fill="none" stroke="#0a3d56" stroke-width="1.1"/>
<polygon points="356.4,573.0 394.3,550.8 433.5,573.0 395.6,595.2" fill="#ffffff"/>
<ellipse cx="362.3" cy="573.3" rx="2.1" ry="1.45" fill="none" stroke="#0a3d56" stroke-width="1.1"/>
<ellipse cx="368.9" cy="577.0" rx="2.1" ry="1.45" fill="none" stroke="#0a3d56" stroke-width="1.1"/>
<ellipse cx="375.4" cy="580.7" rx="2.1" ry="1.45" fill="none" stroke="#0a3d56" stroke-width="1.1"/>
<ellipse cx="381.9" cy="584.4" rx="2.1" ry="1.45" fill="none" stroke="#0a3d56" stroke-width="1.1"/>
<ellipse cx="388.5" cy="588.1" rx="2.1" ry="1.45" fill="none" stroke="#0a3d56" stroke-width="1.1"/>
<ellipse cx="395.0" cy="591.8" rx="2.1" ry="1.45" fill="none" stroke="#0a3d56" stroke-width="1.1"/>
<ellipse cx="367.7" cy="570.1" rx="2.1" ry="1.45" fill="none" stroke="#0a3d56" stroke-width="1.1"/>
<ellipse cx="374.3" cy="573.8" rx="2.1" ry="1.45" fill="none" stroke="#0a3d56" stroke-width="1.1"/>
<ellipse cx="380.8" cy="577.5" rx="2.1" ry="1.45" fill="none" stroke="#0a3d56" stroke-width="1.1"/>
<ellipse cx="387.3" cy="581.2" rx="2.1" ry="1.45" fill="none" stroke="#0a3d56" stroke-width="1.1"/>
<ellipse cx="393.9" cy="584.9" rx="2.1" ry="1.45" fill="none" stroke="#0a3d56" stroke-width="1.1"/>
<ellipse cx="400.4" cy="588.6" rx="2.1" ry="1.45" fill="none" stroke="#0a3d56" stroke-width="1.1"/>
<ellipse cx="373.2" cy="567.0" rx="2.1" ry="1.45" fill="none" stroke="#0a3d56" stroke-width="1.1"/>
<ellipse cx="379.7" cy="570.7" rx="2.1" ry="1.45" fill="none" stroke="#0a3d56" stroke-width="1.1"/>
<ellipse cx="386.2" cy="574.4" rx="2.1" ry="1.45" fill="none" stroke="#0a3d56" stroke-width="1.1"/>
<ellipse cx="392.8" cy="578.1" rx="2.1" ry="1.45" fill="none" stroke="#0a3d56" stroke-width="1.1"/>
<ellipse cx="399.3" cy="581.8" rx="2.1" ry="1.45" fill="none" stroke="#0a3d56" stroke-width="1.1"/>
<ellipse cx="405.8" cy="585.5" rx="2.1" ry="1.45" fill="none" stroke="#0a3d56" stroke-width="1.1"/>
<ellipse cx="378.6" cy="563.8" rx="2.1" ry="1.45" fill="none" stroke="#0a3d56" stroke-width="1.1"/>
<ellipse cx="385.1" cy="567.5" rx="2.1" ry="1.45" fill="none" stroke="#0a3d56" stroke-width="1.1"/>
<ellipse cx="391.6" cy="571.2" rx="2.1" ry="1.45" fill="none" stroke="#0a3d56" stroke-width="1.1"/>
<ellipse cx="398.2" cy="574.9" rx="2.1" ry="1.45" fill="none" stroke="#0a3d56" stroke-width="1.1"/>
<ellipse cx="404.7" cy="578.6" rx="2.1" ry="1.45" fill="none" stroke="#0a3d56" stroke-width="1.1"/>
<ellipse cx="411.2" cy="582.3" rx="2.1" ry="1.45" fill="none" stroke="#0a3d56" stroke-width="1.1"/>
<ellipse cx="384.0" cy="560.6" rx="2.1" ry="1.45" fill="none" stroke="#0a3d56" stroke-width="1.1"/>
<ellipse cx="390.5" cy="564.3" rx="2.1" ry="1.45" fill="none" stroke="#0a3d56" stroke-width="1.1"/>
<ellipse cx="397.1" cy="568.0" rx="2.1" ry="1.45" fill="none" stroke="#0a3d56" stroke-width="1.1"/>
<ellipse cx="403.6" cy="571.7" rx="2.1" ry="1.45" fill="none" stroke="#0a3d56" stroke-width="1.1"/>
<ellipse cx="410.1" cy="575.4" rx="2.1" ry="1.45" fill="none" stroke="#0a3d56" stroke-width="1.1"/>
<ellipse cx="416.7" cy="579.1" rx="2.1" ry="1.45" fill="none" stroke="#0a3d56" stroke-width="1.1"/>
<ellipse cx="389.4" cy="557.4" rx="2.1" ry="1.45" fill="none" stroke="#0a3d56" stroke-width="1.1"/>
<ellipse cx="395.9" cy="561.1" rx="2.1" ry="1.45" fill="none" stroke="#0a3d56" stroke-width="1.1"/>
<ellipse cx="402.5" cy="564.8" rx="2.1" ry="1.45" fill="none" stroke="#0a3d56" stroke-width="1.1"/>
<ellipse cx="409.0" cy="568.5" rx="2.1" ry="1.45" fill="none" stroke="#0a3d56" stroke-width="1.1"/>
<ellipse cx="415.5" cy="572.2" rx="2.1" ry="1.45" fill="none" stroke="#0a3d56" stroke-width="1.1"/>
<ellipse cx="422.1" cy="575.9" rx="2.1" ry="1.45" fill="none" stroke="#0a3d56" stroke-width="1.1"/>
<ellipse cx="394.8" cy="554.3" rx="2.1" ry="1.45" fill="none" stroke="#0a3d56" stroke-width="1.1"/>
<ellipse cx="401.4" cy="558.0" rx="2.1" ry="1.45" fill="none" stroke="#0a3d56" stroke-width="1.1"/>
<ellipse cx="407.9" cy="561.7" rx="2.1" ry="1.45" fill="none" stroke="#0a3d56" stroke-width="1.1"/>
<ellipse cx="414.4" cy="565.4" rx="2.1" ry="1.45" fill="none" stroke="#0a3d56" stroke-width="1.1"/>
<ellipse cx="421.0" cy="569.1" rx="2.1" ry="1.45" fill="none" stroke="#0a3d56" stroke-width="1.1"/>
<ellipse cx="427.5" cy="572.8" rx="2.1" ry="1.45" fill="none" stroke="#0a3d56" stroke-width="1.1"/>
<polygon points="398.2,548.8 436.1,526.5 475.3,548.8 437.4,571.0" fill="#ffffff"/>
<ellipse cx="404.2" cy="549.0" rx="2.1" ry="1.45" fill="none" stroke="#0a3d56" stroke-width="1.1"/>
<ellipse cx="410.7" cy="552.7" rx="2.1" ry="1.45" fill="none" stroke="#0a3d56" stroke-width="1.1"/>
<ellipse cx="417.2" cy="556.4" rx="2.1" ry="1.45" fill="none" stroke="#0a3d56" stroke-width="1.1"/>
<ellipse cx="423.8" cy="560.1" rx="2.1" ry="1.45" fill="none" stroke="#0a3d56" stroke-width="1.1"/>
<ellipse cx="430.3" cy="563.8" rx="2.1" ry="1.45" fill="none" stroke="#0a3d56" stroke-width="1.1"/>
<ellipse cx="436.8" cy="567.5" rx="2.1" ry="1.45" fill="none" stroke="#0a3d56" stroke-width="1.1"/>
<ellipse cx="409.6" cy="545.8" rx="2.1" ry="1.45" fill="none" stroke="#0a3d56" stroke-width="1.1"/>
<ellipse cx="416.1" cy="549.5" rx="2.1" ry="1.45" fill="none" stroke="#0a3d56" stroke-width="1.1"/>
<ellipse cx="422.7" cy="553.2" rx="2.1" ry="1.45" fill="none" stroke="#0a3d56" stroke-width="1.1"/>
<ellipse cx="429.2" cy="556.9" rx="2.1" ry="1.45" fill="none" stroke="#0a3d56" stroke-width="1.1"/>
<ellipse cx="435.7" cy="560.6" rx="2.1" ry="1.45" fill="none" stroke="#0a3d56" stroke-width="1.1"/>
<ellipse cx="442.3" cy="564.3" rx="2.1" ry="1.45" fill="none" stroke="#0a3d56" stroke-width="1.1"/>
<ellipse cx="415.0" cy="542.7" rx="2.1" ry="1.45" fill="none" stroke="#0a3d56" stroke-width="1.1"/>
<ellipse cx="421.5" cy="546.4" rx="2.1" ry="1.45" fill="none" stroke="#0a3d56" stroke-width="1.1"/>
<ellipse cx="428.1" cy="550.1" rx="2.1" ry="1.45" fill="none" stroke="#0a3d56" stroke-width="1.1"/>
<ellipse cx="434.6" cy="553.8" rx="2.1" ry="1.45" fill="none" stroke="#0a3d56" stroke-width="1.1"/>
<ellipse cx="441.1" cy="557.5" rx="2.1" ry="1.45" fill="none" stroke="#0a3d56" stroke-width="1.1"/>
<ellipse cx="447.7" cy="561.2" rx="2.1" ry="1.45" fill="none" stroke="#0a3d56" stroke-width="1.1"/>
<ellipse cx="420.4" cy="539.5" rx="2.1" ry="1.45" fill="none" stroke="#0a3d56" stroke-width="1.1"/>
<ellipse cx="427.0" cy="543.2" rx="2.1" ry="1.45" fill="none" stroke="#0a3d56" stroke-width="1.1"/>
<ellipse cx="433.5" cy="546.9" rx="2.1" ry="1.45" fill="none" stroke="#0a3d56" stroke-width="1.1"/>
<ellipse cx="440.0" cy="550.6" rx="2.1" ry="1.45" fill="none" stroke="#0a3d56" stroke-width="1.1"/>
<ellipse cx="446.6" cy="554.3" rx="2.1" ry="1.45" fill="none" stroke="#0a3d56" stroke-width="1.1"/>
<ellipse cx="453.1" cy="558.0" rx="2.1" ry="1.45" fill="none" stroke="#0a3d56" stroke-width="1.1"/>
<ellipse cx="425.8" cy="536.3" rx="2.1" ry="1.45" fill="none" stroke="#0a3d56" stroke-width="1.1"/>
<ellipse cx="432.4" cy="540.0" rx="2.1" ry="1.45" fill="none" stroke="#0a3d56" stroke-width="1.1"/>
<ellipse cx="438.9" cy="543.7" rx="2.1" ry="1.45" fill="none" stroke="#0a3d56" stroke-width="1.1"/>
<ellipse cx="445.4" cy="547.4" rx="2.1" ry="1.45" fill="none" stroke="#0a3d56" stroke-width="1.1"/>
<ellipse cx="452.0" cy="551.1" rx="2.1" ry="1.45" fill="none" stroke="#0a3d56" stroke-width="1.1"/>
<ellipse cx="458.5" cy="554.8" rx="2.1" ry="1.45" fill="none" stroke="#0a3d56" stroke-width="1.1"/>
<ellipse cx="431.2" cy="533.2" rx="2.1" ry="1.45" fill="none" stroke="#0a3d56" stroke-width="1.1"/>
<ellipse cx="437.8" cy="536.9" rx="2.1" ry="1.45" fill="none" stroke="#0a3d56" stroke-width="1.1"/>
<ellipse cx="444.3" cy="540.6" rx="2.1" ry="1.45" fill="none" stroke="#0a3d56" stroke-width="1.1"/>
<ellipse cx="450.8" cy="544.3" rx="2.1" ry="1.45" fill="none" stroke="#0a3d56" stroke-width="1.1"/>
<ellipse cx="457.4" cy="548.0" rx="2.1" ry="1.45" fill="none" stroke="#0a3d56" stroke-width="1.1"/>
<ellipse cx="463.9" cy="551.7" rx="2.1" ry="1.45" fill="none" stroke="#0a3d56" stroke-width="1.1"/>
<ellipse cx="436.7" cy="530.0" rx="2.1" ry="1.45" fill="none" stroke="#0a3d56" stroke-width="1.1"/>
<ellipse cx="443.2" cy="533.7" rx="2.1" ry="1.45" fill="none" stroke="#0a3d56" stroke-width="1.1"/>
<ellipse cx="449.7" cy="537.4" rx="2.1" ry="1.45" fill="none" stroke="#0a3d56" stroke-width="1.1"/>
<ellipse cx="456.3" cy="541.1" rx="2.1" ry="1.45" fill="none" stroke="#0a3d56" stroke-width="1.1"/>
<ellipse cx="462.8" cy="544.8" rx="2.1" ry="1.45" fill="none" stroke="#0a3d56" stroke-width="1.1"/>
<ellipse cx="469.3" cy="548.5" rx="2.1" ry="1.45" fill="none" stroke="#0a3d56" stroke-width="1.1"/>
<polygon points="440.0,524.5 477.9,502.3 517.1,524.5 479.2,546.7" fill="#ffffff"/>
<ellipse cx="446.0" cy="524.7" rx="2.1" ry="1.45" fill="none" stroke="#0a3d56" stroke-width="1.1"/>
<ellipse cx="452.5" cy="528.4" rx="2.1" ry="1.45" fill="none" stroke="#0a3d56" stroke-width="1.1"/>
<ellipse cx="459.1" cy="532.1" rx="2.1" ry="1.45" fill="none" stroke="#0a3d56" stroke-width="1.1"/>
<ellipse cx="465.6" cy="535.8" rx="2.1" ry="1.45" fill="none" stroke="#0a3d56" stroke-width="1.1"/>
<ellipse cx="472.1" cy="539.5" rx="2.1" ry="1.45" fill="none" stroke="#0a3d56" stroke-width="1.1"/>
<ellipse cx="478.7" cy="543.2" rx="2.1" ry="1.45" fill="none" stroke="#0a3d56" stroke-width="1.1"/>
<ellipse cx="451.4" cy="521.6" rx="2.1" ry="1.45" fill="none" stroke="#0a3d56" stroke-width="1.1"/>
<ellipse cx="458.0" cy="525.3" rx="2.1" ry="1.45" fill="none" stroke="#0a3d56" stroke-width="1.1"/>
<ellipse cx="464.5" cy="529.0" rx="2.1" ry="1.45" fill="none" stroke="#0a3d56" stroke-width="1.1"/>
<ellipse cx="471.0" cy="532.7" rx="2.1" ry="1.45" fill="none" stroke="#0a3d56" stroke-width="1.1"/>
<ellipse cx="477.6" cy="536.4" rx="2.1" ry="1.45" fill="none" stroke="#0a3d56" stroke-width="1.1"/>
<ellipse cx="484.1" cy="540.1" rx="2.1" ry="1.45" fill="none" stroke="#0a3d56" stroke-width="1.1"/>
<ellipse cx="456.8" cy="518.4" rx="2.1" ry="1.45" fill="none" stroke="#0a3d56" stroke-width="1.1"/>
<ellipse cx="463.4" cy="522.1" rx="2.1" ry="1.45" fill="none" stroke="#0a3d56" stroke-width="1.1"/>
<ellipse cx="469.9" cy="525.8" rx="2.1" ry="1.45" fill="none" stroke="#0a3d56" stroke-width="1.1"/>
<ellipse cx="476.4" cy="529.5" rx="2.1" ry="1.45" fill="none" stroke="#0a3d56" stroke-width="1.1"/>
<ellipse cx="483.0" cy="533.2" rx="2.1" ry="1.45" fill="none" stroke="#0a3d56" stroke-width="1.1"/>
<ellipse cx="489.5" cy="536.9" rx="2.1" ry="1.45" fill="none" stroke="#0a3d56" stroke-width="1.1"/>
<ellipse cx="462.3" cy="515.2" rx="2.1" ry="1.45" fill="none" stroke="#0a3d56" stroke-width="1.1"/>
<ellipse cx="468.8" cy="518.9" rx="2.1" ry="1.45" fill="none" stroke="#0a3d56" stroke-width="1.1"/>
<ellipse cx="475.3" cy="522.6" rx="2.1" ry="1.45" fill="none" stroke="#0a3d56" stroke-width="1.1"/>
<ellipse cx="481.9" cy="526.3" rx="2.1" ry="1.45" fill="none" stroke="#0a3d56" stroke-width="1.1"/>
<ellipse cx="488.4" cy="530.0" rx="2.1" ry="1.45" fill="none" stroke="#0a3d56" stroke-width="1.1"/>
<ellipse cx="494.9" cy="533.7" rx="2.1" ry="1.45" fill="none" stroke="#0a3d56" stroke-width="1.1"/>
<ellipse cx="467.7" cy="512.0" rx="2.1" ry="1.45" fill="none" stroke="#0a3d56" stroke-width="1.1"/>
<ellipse cx="474.2" cy="515.7" rx="2.1" ry="1.45" fill="none" stroke="#0a3d56" stroke-width="1.1"/>
<ellipse cx="480.7" cy="519.4" rx="2.1" ry="1.45" fill="none" stroke="#0a3d56" stroke-width="1.1"/>
<ellipse cx="487.3" cy="523.1" rx="2.1" ry="1.45" fill="none" stroke="#0a3d56" stroke-width="1.1"/>
<ellipse cx="493.8" cy="526.8" rx="2.1" ry="1.45" fill="none" stroke="#0a3d56" stroke-width="1.1"/>
<ellipse cx="500.3" cy="530.5" rx="2.1" ry="1.45" fill="none" stroke="#0a3d56" stroke-width="1.1"/>
<ellipse cx="473.1" cy="508.9" rx="2.1" ry="1.45" fill="none" stroke="#0a3d56" stroke-width="1.1"/>
<ellipse cx="479.6" cy="512.6" rx="2.1" ry="1.45" fill="none" stroke="#0a3d56" stroke-width="1.1"/>
<ellipse cx="486.2" cy="516.3" rx="2.1" ry="1.45" fill="none" stroke="#0a3d56" stroke-width="1.1"/>
<ellipse cx="492.7" cy="520.0" rx="2.1" ry="1.45" fill="none" stroke="#0a3d56" stroke-width="1.1"/>
<ellipse cx="499.2" cy="523.7" rx="2.1" ry="1.45" fill="none" stroke="#0a3d56" stroke-width="1.1"/>
<ellipse cx="505.8" cy="527.4" rx="2.1" ry="1.45" fill="none" stroke="#0a3d56" stroke-width="1.1"/>
<ellipse cx="478.5" cy="505.7" rx="2.1" ry="1.45" fill="none" stroke="#0a3d56" stroke-width="1.1"/>
<ellipse cx="485.0" cy="509.4" rx="2.1" ry="1.45" fill="none" stroke="#0a3d56" stroke-width="1.1"/>
<ellipse cx="491.6" cy="513.1" rx="2.1" ry="1.45" fill="none" stroke="#0a3d56" stroke-width="1.1"/>
<ellipse cx="498.1" cy="516.8" rx="2.1" ry="1.45" fill="none" stroke="#0a3d56" stroke-width="1.1"/>
<ellipse cx="504.6" cy="520.5" rx="2.1" ry="1.45" fill="none" stroke="#0a3d56" stroke-width="1.1"/>
<ellipse cx="511.2" cy="524.2" rx="2.1" ry="1.45" fill="none" stroke="#0a3d56" stroke-width="1.1"/>
<polygon points="481.9,500.2 519.8,478.0 559.0,500.2 521.1,522.4" fill="#ffffff"/>
<ellipse cx="487.9" cy="500.4" rx="2.1" ry="1.45" fill="none" stroke="#0a3d56" stroke-width="1.1"/>
<ellipse cx="494.4" cy="504.1" rx="2.1" ry="1.45" fill="none" stroke="#0a3d56" stroke-width="1.1"/>
<ellipse cx="500.9" cy="507.8" rx="2.1" ry="1.45" fill="none" stroke="#0a3d56" stroke-width="1.1"/>
<ellipse cx="507.5" cy="511.5" rx="2.1" ry="1.45" fill="none" stroke="#0a3d56" stroke-width="1.1"/>
<ellipse cx="514.0" cy="515.2" rx="2.1" ry="1.45" fill="none" stroke="#0a3d56" stroke-width="1.1"/>
<ellipse cx="520.5" cy="518.9" rx="2.1" ry="1.45" fill="none" stroke="#0a3d56" stroke-width="1.1"/>
<ellipse cx="493.3" cy="497.3" rx="2.1" ry="1.45" fill="none" stroke="#0a3d56" stroke-width="1.1"/>
<ellipse cx="499.8" cy="501.0" rx="2.1" ry="1.45" fill="none" stroke="#0a3d56" stroke-width="1.1"/>
<ellipse cx="506.3" cy="504.7" rx="2.1" ry="1.45" fill="none" stroke="#0a3d56" stroke-width="1.1"/>
<ellipse cx="512.9" cy="508.4" rx="2.1" ry="1.45" fill="none" stroke="#0a3d56" stroke-width="1.1"/>
<ellipse cx="519.4" cy="512.1" rx="2.1" ry="1.45" fill="none" stroke="#0a3d56" stroke-width="1.1"/>
<ellipse cx="525.9" cy="515.8" rx="2.1" ry="1.45" fill="none" stroke="#0a3d56" stroke-width="1.1"/>
<ellipse cx="498.7" cy="494.1" rx="2.1" ry="1.45" fill="none" stroke="#0a3d56" stroke-width="1.1"/>
<ellipse cx="505.2" cy="497.8" rx="2.1" ry="1.45" fill="none" stroke="#0a3d56" stroke-width="1.1"/>
<ellipse cx="511.7" cy="501.5" rx="2.1" ry="1.45" fill="none" stroke="#0a3d56" stroke-width="1.1"/>
<ellipse cx="518.3" cy="505.2" rx="2.1" ry="1.45" fill="none" stroke="#0a3d56" stroke-width="1.1"/>
<ellipse cx="524.8" cy="508.9" rx="2.1" ry="1.45" fill="none" stroke="#0a3d56" stroke-width="1.1"/>
<ellipse cx="531.3" cy="512.6" rx="2.1" ry="1.45" fill="none" stroke="#0a3d56" stroke-width="1.1"/>
<ellipse cx="504.1" cy="490.9" rx="2.1" ry="1.45" fill="none" stroke="#0a3d56" stroke-width="1.1"/>
<ellipse cx="510.6" cy="494.6" rx="2.1" ry="1.45" fill="none" stroke="#0a3d56" stroke-width="1.1"/>
<ellipse cx="517.2" cy="498.3" rx="2.1" ry="1.45" fill="none" stroke="#0a3d56" stroke-width="1.1"/>
<ellipse cx="523.7" cy="502.0" rx="2.1" ry="1.45" fill="none" stroke="#0a3d56" stroke-width="1.1"/>
<ellipse cx="530.2" cy="505.7" rx="2.1" ry="1.45" fill="none" stroke="#0a3d56" stroke-width="1.1"/>
<ellipse cx="536.8" cy="509.4" rx="2.1" ry="1.45" fill="none" stroke="#0a3d56" stroke-width="1.1"/>
<ellipse cx="509.5" cy="487.7" rx="2.1" ry="1.45" fill="none" stroke="#0a3d56" stroke-width="1.1"/>
<ellipse cx="516.0" cy="491.4" rx="2.1" ry="1.45" fill="none" stroke="#0a3d56" stroke-width="1.1"/>
<ellipse cx="522.6" cy="495.1" rx="2.1" ry="1.45" fill="none" stroke="#0a3d56" stroke-width="1.1"/>
<ellipse cx="529.1" cy="498.8" rx="2.1" ry="1.45" fill="none" stroke="#0a3d56" stroke-width="1.1"/>
<ellipse cx="535.6" cy="502.5" rx="2.1" ry="1.45" fill="none" stroke="#0a3d56" stroke-width="1.1"/>
<ellipse cx="542.2" cy="506.2" rx="2.1" ry="1.45" fill="none" stroke="#0a3d56" stroke-width="1.1"/>
<ellipse cx="514.9" cy="484.6" rx="2.1" ry="1.45" fill="none" stroke="#0a3d56" stroke-width="1.1"/>
<ellipse cx="521.5" cy="488.3" rx="2.1" ry="1.45" fill="none" stroke="#0a3d56" stroke-width="1.1"/>
<ellipse cx="528.0" cy="492.0" rx="2.1" ry="1.45" fill="none" stroke="#0a3d56" stroke-width="1.1"/>
<ellipse cx="534.5" cy="495.7" rx="2.1" ry="1.45" fill="none" stroke="#0a3d56" stroke-width="1.1"/>
<ellipse cx="541.1" cy="499.4" rx="2.1" ry="1.45" fill="none" stroke="#0a3d56" stroke-width="1.1"/>
<ellipse cx="547.6" cy="503.1" rx="2.1" ry="1.45" fill="none" stroke="#0a3d56" stroke-width="1.1"/>
<ellipse cx="520.3" cy="481.4" rx="2.1" ry="1.45" fill="none" stroke="#0a3d56" stroke-width="1.1"/>
<ellipse cx="526.9" cy="485.1" rx="2.1" ry="1.45" fill="none" stroke="#0a3d56" stroke-width="1.1"/>
<ellipse cx="533.4" cy="488.8" rx="2.1" ry="1.45" fill="none" stroke="#0a3d56" stroke-width="1.1"/>
<ellipse cx="539.9" cy="492.5" rx="2.1" ry="1.45" fill="none" stroke="#0a3d56" stroke-width="1.1"/>
<ellipse cx="546.5" cy="496.2" rx="2.1" ry="1.45" fill="none" stroke="#0a3d56" stroke-width="1.1"/>
<ellipse cx="553.0" cy="499.9" rx="2.1" ry="1.45" fill="none" stroke="#0a3d56" stroke-width="1.1"/>
<polygon points="523.7,475.9 561.6,453.7 600.8,475.9 562.9,498.1" fill="#ffffff"/>
<ellipse cx="529.7" cy="476.1" rx="2.1" ry="1.45" fill="none" stroke="#0a3d56" stroke-width="1.1"/>
<ellipse cx="536.2" cy="479.8" rx="2.1" ry="1.45" fill="none" stroke="#0a3d56" stroke-width="1.1"/>
<ellipse cx="542.8" cy="483.5" rx="2.1" ry="1.45" fill="none" stroke="#0a3d56" stroke-width="1.1"/>
<ellipse cx="549.3" cy="487.2" rx="2.1" ry="1.45" fill="none" stroke="#0a3d56" stroke-width="1.1"/>
<ellipse cx="555.8" cy="490.9" rx="2.1" ry="1.45" fill="none" stroke="#0a3d56" stroke-width="1.1"/>
<ellipse cx="562.4" cy="494.6" rx="2.1" ry="1.45" fill="none" stroke="#0a3d56" stroke-width="1.1"/>
<ellipse cx="535.1" cy="473.0" rx="2.1" ry="1.45" fill="none" stroke="#0a3d56" stroke-width="1.1"/>
<ellipse cx="541.6" cy="476.7" rx="2.1" ry="1.45" fill="none" stroke="#0a3d56" stroke-width="1.1"/>
<ellipse cx="548.2" cy="480.4" rx="2.1" ry="1.45" fill="none" stroke="#0a3d56" stroke-width="1.1"/>
<ellipse cx="554.7" cy="484.1" rx="2.1" ry="1.45" fill="none" stroke="#0a3d56" stroke-width="1.1"/>
<ellipse cx="561.2" cy="487.8" rx="2.1" ry="1.45" fill="none" stroke="#0a3d56" stroke-width="1.1"/>
<ellipse cx="567.8" cy="491.5" rx="2.1" ry="1.45" fill="none" stroke="#0a3d56" stroke-width="1.1"/>
<ellipse cx="540.5" cy="469.8" rx="2.1" ry="1.45" fill="none" stroke="#0a3d56" stroke-width="1.1"/>
<ellipse cx="547.1" cy="473.5" rx="2.1" ry="1.45" fill="none" stroke="#0a3d56" stroke-width="1.1"/>
<ellipse cx="553.6" cy="477.2" rx="2.1" ry="1.45" fill="none" stroke="#0a3d56" stroke-width="1.1"/>
<ellipse cx="560.1" cy="480.9" rx="2.1" ry="1.45" fill="none" stroke="#0a3d56" stroke-width="1.1"/>
<ellipse cx="566.7" cy="484.6" rx="2.1" ry="1.45" fill="none" stroke="#0a3d56" stroke-width="1.1"/>
<ellipse cx="573.2" cy="488.3" rx="2.1" ry="1.45" fill="none" stroke="#0a3d56" stroke-width="1.1"/>
<ellipse cx="545.9" cy="466.6" rx="2.1" ry="1.45" fill="none" stroke="#0a3d56" stroke-width="1.1"/>
<ellipse cx="552.5" cy="470.3" rx="2.1" ry="1.45" fill="none" stroke="#0a3d56" stroke-width="1.1"/>
<ellipse cx="559.0" cy="474.0" rx="2.1" ry="1.45" fill="none" stroke="#0a3d56" stroke-width="1.1"/>
<ellipse cx="565.5" cy="477.7" rx="2.1" ry="1.45" fill="none" stroke="#0a3d56" stroke-width="1.1"/>
<ellipse cx="572.1" cy="481.4" rx="2.1" ry="1.45" fill="none" stroke="#0a3d56" stroke-width="1.1"/>
<ellipse cx="578.6" cy="485.1" rx="2.1" ry="1.45" fill="none" stroke="#0a3d56" stroke-width="1.1"/>
<ellipse cx="551.4" cy="463.5" rx="2.1" ry="1.45" fill="none" stroke="#0a3d56" stroke-width="1.1"/>
<ellipse cx="557.9" cy="467.2" rx="2.1" ry="1.45" fill="none" stroke="#0a3d56" stroke-width="1.1"/>
<ellipse cx="564.4" cy="470.9" rx="2.1" ry="1.45" fill="none" stroke="#0a3d56" stroke-width="1.1"/>
<ellipse cx="571.0" cy="474.6" rx="2.1" ry="1.45" fill="none" stroke="#0a3d56" stroke-width="1.1"/>
<ellipse cx="577.5" cy="478.3" rx="2.1" ry="1.45" fill="none" stroke="#0a3d56" stroke-width="1.1"/>
<ellipse cx="584.0" cy="482.0" rx="2.1" ry="1.45" fill="none" stroke="#0a3d56" stroke-width="1.1"/>
<ellipse cx="556.8" cy="460.3" rx="2.1" ry="1.45" fill="none" stroke="#0a3d56" stroke-width="1.1"/>
<ellipse cx="563.3" cy="464.0" rx="2.1" ry="1.45" fill="none" stroke="#0a3d56" stroke-width="1.1"/>
<ellipse cx="569.8" cy="467.7" rx="2.1" ry="1.45" fill="none" stroke="#0a3d56" stroke-width="1.1"/>
<ellipse cx="576.4" cy="471.4" rx="2.1" ry="1.45" fill="none" stroke="#0a3d56" stroke-width="1.1"/>
<ellipse cx="582.9" cy="475.1" rx="2.1" ry="1.45" fill="none" stroke="#0a3d56" stroke-width="1.1"/>
<ellipse cx="589.4" cy="478.8" rx="2.1" ry="1.45" fill="none" stroke="#0a3d56" stroke-width="1.1"/>
<ellipse cx="562.2" cy="457.1" rx="2.1" ry="1.45" fill="none" stroke="#0a3d56" stroke-width="1.1"/>
<ellipse cx="568.7" cy="460.8" rx="2.1" ry="1.45" fill="none" stroke="#0a3d56" stroke-width="1.1"/>
<ellipse cx="575.2" cy="464.5" rx="2.1" ry="1.45" fill="none" stroke="#0a3d56" stroke-width="1.1"/>
<ellipse cx="581.8" cy="468.2" rx="2.1" ry="1.45" fill="none" stroke="#0a3d56" stroke-width="1.1"/>
<ellipse cx="588.3" cy="471.9" rx="2.1" ry="1.45" fill="none" stroke="#0a3d56" stroke-width="1.1"/>
<ellipse cx="594.8" cy="475.6" rx="2.1" ry="1.45" fill="none" stroke="#0a3d56" stroke-width="1.1"/>
<polygon points="565.6,451.6 603.5,429.4 642.7,451.6 604.8,473.8" fill="#ffffff"/>
<ellipse cx="571.5" cy="451.9" rx="2.1" ry="1.45" fill="none" stroke="#0a3d56" stroke-width="1.1"/>
<ellipse cx="578.1" cy="455.6" rx="2.1" ry="1.45" fill="none" stroke="#0a3d56" stroke-width="1.1"/>
<ellipse cx="584.6" cy="459.3" rx="2.1" ry="1.45" fill="none" stroke="#0a3d56" stroke-width="1.1"/>
<ellipse cx="591.1" cy="463.0" rx="2.1" ry="1.45" fill="none" stroke="#0a3d56" stroke-width="1.1"/>
<ellipse cx="597.7" cy="466.7" rx="2.1" ry="1.45" fill="none" stroke="#0a3d56" stroke-width="1.1"/>
<ellipse cx="604.2" cy="470.4" rx="2.1" ry="1.45" fill="none" stroke="#0a3d56" stroke-width="1.1"/>
<ellipse cx="576.9" cy="448.7" rx="2.1" ry="1.45" fill="none" stroke="#0a3d56" stroke-width="1.1"/>
<ellipse cx="583.5" cy="452.4" rx="2.1" ry="1.45" fill="none" stroke="#0a3d56" stroke-width="1.1"/>
<ellipse cx="590.0" cy="456.1" rx="2.1" ry="1.45" fill="none" stroke="#0a3d56" stroke-width="1.1"/>
<ellipse cx="596.5" cy="459.8" rx="2.1" ry="1.45" fill="none" stroke="#0a3d56" stroke-width="1.1"/>
<ellipse cx="603.1" cy="463.5" rx="2.1" ry="1.45" fill="none" stroke="#0a3d56" stroke-width="1.1"/>
<ellipse cx="609.6" cy="467.2" rx="2.1" ry="1.45" fill="none" stroke="#0a3d56" stroke-width="1.1"/>
<ellipse cx="582.4" cy="445.5" rx="2.1" ry="1.45" fill="none" stroke="#0a3d56" stroke-width="1.1"/>
<ellipse cx="588.9" cy="449.2" rx="2.1" ry="1.45" fill="none" stroke="#0a3d56" stroke-width="1.1"/>
<ellipse cx="595.4" cy="452.9" rx="2.1" ry="1.45" fill="none" stroke="#0a3d56" stroke-width="1.1"/>
<ellipse cx="602.0" cy="456.6" rx="2.1" ry="1.45" fill="none" stroke="#0a3d56" stroke-width="1.1"/>
<ellipse cx="608.5" cy="460.3" rx="2.1" ry="1.45" fill="none" stroke="#0a3d56" stroke-width="1.1"/>
<ellipse cx="615.0" cy="464.0" rx="2.1" ry="1.45" fill="none" stroke="#0a3d56" stroke-width="1.1"/>
<ellipse cx="587.8" cy="442.3" rx="2.1" ry="1.45" fill="none" stroke="#0a3d56" stroke-width="1.1"/>
<ellipse cx="594.3" cy="446.0" rx="2.1" ry="1.45" fill="none" stroke="#0a3d56" stroke-width="1.1"/>
<ellipse cx="600.8" cy="449.7" rx="2.1" ry="1.45" fill="none" stroke="#0a3d56" stroke-width="1.1"/>
<ellipse cx="607.4" cy="453.4" rx="2.1" ry="1.45" fill="none" stroke="#0a3d56" stroke-width="1.1"/>
<ellipse cx="613.9" cy="457.1" rx="2.1" ry="1.45" fill="none" stroke="#0a3d56" stroke-width="1.1"/>
<ellipse cx="620.4" cy="460.8" rx="2.1" ry="1.45" fill="none" stroke="#0a3d56" stroke-width="1.1"/>
<ellipse cx="593.2" cy="439.2" rx="2.1" ry="1.45" fill="none" stroke="#0a3d56" stroke-width="1.1"/>
<ellipse cx="599.7" cy="442.9" rx="2.1" ry="1.45" fill="none" stroke="#0a3d56" stroke-width="1.1"/>
<ellipse cx="606.3" cy="446.6" rx="2.1" ry="1.45" fill="none" stroke="#0a3d56" stroke-width="1.1"/>
<ellipse cx="612.8" cy="450.3" rx="2.1" ry="1.45" fill="none" stroke="#0a3d56" stroke-width="1.1"/>
<ellipse cx="619.3" cy="454.0" rx="2.1" ry="1.45" fill="none" stroke="#0a3d56" stroke-width="1.1"/>
<ellipse cx="625.9" cy="457.7" rx="2.1" ry="1.45" fill="none" stroke="#0a3d56" stroke-width="1.1"/>
<ellipse cx="598.6" cy="436.0" rx="2.1" ry="1.45" fill="none" stroke="#0a3d56" stroke-width="1.1"/>
<ellipse cx="605.1" cy="439.7" rx="2.1" ry="1.45" fill="none" stroke="#0a3d56" stroke-width="1.1"/>
<ellipse cx="611.7" cy="443.4" rx="2.1" ry="1.45" fill="none" stroke="#0a3d56" stroke-width="1.1"/>
<ellipse cx="618.2" cy="447.1" rx="2.1" ry="1.45" fill="none" stroke="#0a3d56" stroke-width="1.1"/>
<ellipse cx="624.7" cy="450.8" rx="2.1" ry="1.45" fill="none" stroke="#0a3d56" stroke-width="1.1"/>
<ellipse cx="631.3" cy="454.5" rx="2.1" ry="1.45" fill="none" stroke="#0a3d56" stroke-width="1.1"/>
<ellipse cx="604.0" cy="432.8" rx="2.1" ry="1.45" fill="none" stroke="#0a3d56" stroke-width="1.1"/>
<ellipse cx="610.6" cy="436.5" rx="2.1" ry="1.45" fill="none" stroke="#0a3d56" stroke-width="1.1"/>
<ellipse cx="617.1" cy="440.2" rx="2.1" ry="1.45" fill="none" stroke="#0a3d56" stroke-width="1.1"/>
<ellipse cx="623.6" cy="443.9" rx="2.1" ry="1.45" fill="none" stroke="#0a3d56" stroke-width="1.1"/>
<ellipse cx="630.2" cy="447.6" rx="2.1" ry="1.45" fill="none" stroke="#0a3d56" stroke-width="1.1"/>
<ellipse cx="636.7" cy="451.3" rx="2.1" ry="1.45" fill="none" stroke="#0a3d56" stroke-width="1.1"/>
<polygon points="607.4,427.3 645.3,405.1 684.5,427.3 646.6,449.5" fill="#ffffff"/>
<ellipse cx="613.4" cy="427.6" rx="2.1" ry="1.45" fill="none" stroke="#0a3d56" stroke-width="1.1"/>
<ellipse cx="619.9" cy="431.3" rx="2.1" ry="1.45" fill="none" stroke="#0a3d56" stroke-width="1.1"/>
<ellipse cx="626.4" cy="435.0" rx="2.1" ry="1.45" fill="none" stroke="#0a3d56" stroke-width="1.1"/>
<ellipse cx="633.0" cy="438.7" rx="2.1" ry="1.45" fill="none" stroke="#0a3d56" stroke-width="1.1"/>
<ellipse cx="639.5" cy="442.4" rx="2.1" ry="1.45" fill="none" stroke="#0a3d56" stroke-width="1.1"/>
<ellipse cx="646.0" cy="446.1" rx="2.1" ry="1.45" fill="none" stroke="#0a3d56" stroke-width="1.1"/>
<ellipse cx="618.8" cy="424.4" rx="2.1" ry="1.45" fill="none" stroke="#0a3d56" stroke-width="1.1"/>
<ellipse cx="625.3" cy="428.1" rx="2.1" ry="1.45" fill="none" stroke="#0a3d56" stroke-width="1.1"/>
<ellipse cx="631.9" cy="431.8" rx="2.1" ry="1.45" fill="none" stroke="#0a3d56" stroke-width="1.1"/>
<ellipse cx="638.4" cy="435.5" rx="2.1" ry="1.45" fill="none" stroke="#0a3d56" stroke-width="1.1"/>
<ellipse cx="644.9" cy="439.2" rx="2.1" ry="1.45" fill="none" stroke="#0a3d56" stroke-width="1.1"/>
<ellipse cx="651.5" cy="442.9" rx="2.1" ry="1.45" fill="none" stroke="#0a3d56" stroke-width="1.1"/>
<ellipse cx="624.2" cy="421.2" rx="2.1" ry="1.45" fill="none" stroke="#0a3d56" stroke-width="1.1"/>
<ellipse cx="630.7" cy="424.9" rx="2.1" ry="1.45" fill="none" stroke="#0a3d56" stroke-width="1.1"/>
<ellipse cx="637.3" cy="428.6" rx="2.1" ry="1.45" fill="none" stroke="#0a3d56" stroke-width="1.1"/>
<ellipse cx="643.8" cy="432.3" rx="2.1" ry="1.45" fill="none" stroke="#0a3d56" stroke-width="1.1"/>
<ellipse cx="650.3" cy="436.0" rx="2.1" ry="1.45" fill="none" stroke="#0a3d56" stroke-width="1.1"/>
<ellipse cx="656.9" cy="439.7" rx="2.1" ry="1.45" fill="none" stroke="#0a3d56" stroke-width="1.1"/>
<ellipse cx="629.6" cy="418.1" rx="2.1" ry="1.45" fill="none" stroke="#0a3d56" stroke-width="1.1"/>
<ellipse cx="636.2" cy="421.8" rx="2.1" ry="1.45" fill="none" stroke="#0a3d56" stroke-width="1.1"/>
<ellipse cx="642.7" cy="425.5" rx="2.1" ry="1.45" fill="none" stroke="#0a3d56" stroke-width="1.1"/>
<ellipse cx="649.2" cy="429.2" rx="2.1" ry="1.45" fill="none" stroke="#0a3d56" stroke-width="1.1"/>
<ellipse cx="655.8" cy="432.9" rx="2.1" ry="1.45" fill="none" stroke="#0a3d56" stroke-width="1.1"/>
<ellipse cx="662.3" cy="436.6" rx="2.1" ry="1.45" fill="none" stroke="#0a3d56" stroke-width="1.1"/>
<ellipse cx="635.0" cy="414.9" rx="2.1" ry="1.45" fill="none" stroke="#0a3d56" stroke-width="1.1"/>
<ellipse cx="641.6" cy="418.6" rx="2.1" ry="1.45" fill="none" stroke="#0a3d56" stroke-width="1.1"/>
<ellipse cx="648.1" cy="422.3" rx="2.1" ry="1.45" fill="none" stroke="#0a3d56" stroke-width="1.1"/>
<ellipse cx="654.6" cy="426.0" rx="2.1" ry="1.45" fill="none" stroke="#0a3d56" stroke-width="1.1"/>
<ellipse cx="661.2" cy="429.7" rx="2.1" ry="1.45" fill="none" stroke="#0a3d56" stroke-width="1.1"/>
<ellipse cx="667.7" cy="433.4" rx="2.1" ry="1.45" fill="none" stroke="#0a3d56" stroke-width="1.1"/>
<ellipse cx="640.4" cy="411.7" rx="2.1" ry="1.45" fill="none" stroke="#0a3d56" stroke-width="1.1"/>
<ellipse cx="647.0" cy="415.4" rx="2.1" ry="1.45" fill="none" stroke="#0a3d56" stroke-width="1.1"/>
<ellipse cx="653.5" cy="419.1" rx="2.1" ry="1.45" fill="none" stroke="#0a3d56" stroke-width="1.1"/>
<ellipse cx="660.0" cy="422.8" rx="2.1" ry="1.45" fill="none" stroke="#0a3d56" stroke-width="1.1"/>
<ellipse cx="666.6" cy="426.5" rx="2.1" ry="1.45" fill="none" stroke="#0a3d56" stroke-width="1.1"/>
<ellipse cx="673.1" cy="430.2" rx="2.1" ry="1.45" fill="none" stroke="#0a3d56" stroke-width="1.1"/>
<ellipse cx="645.9" cy="408.5" rx="2.1" ry="1.45" fill="none" stroke="#0a3d56" stroke-width="1.1"/>
<ellipse cx="652.4" cy="412.2" rx="2.1" ry="1.45" fill="none" stroke="#0a3d56" stroke-width="1.1"/>
<ellipse cx="658.9" cy="415.9" rx="2.1" ry="1.45" fill="none" stroke="#0a3d56" stroke-width="1.1"/>
<ellipse cx="665.5" cy="419.6" rx="2.1" ry="1.45" fill="none" stroke="#0a3d56" stroke-width="1.1"/>
<ellipse cx="672.0" cy="423.3" rx="2.1" ry="1.45" fill="none" stroke="#0a3d56" stroke-width="1.1"/>
<ellipse cx="678.5" cy="427.0" rx="2.1" ry="1.45" fill="none" stroke="#0a3d56" stroke-width="1.1"/>
<line x1="158.75" y1="684.8" x2="659.4" y2="390" stroke="#0a3d56" stroke-width="4.2" stroke-linecap="round"/>
<line x1="200.4" y1="717.1" x2="700.9" y2="422.5" stroke="#0a3d56" stroke-width="4.2" stroke-linecap="round"/>
<line x1="204.6" y1="721.6" x2="705.1" y2="428.4" stroke="#0a3d56" stroke-width="3.3" stroke-linecap="round"/>
<line x1="209.8" y1="726.5" x2="707.6" y2="433" stroke="#0a3d56" stroke-width="2.6" stroke-linecap="round"/>
<line x1="224.4" y1="755.6" x2="724" y2="461.7" stroke="#0a3d56" stroke-width="2.6" stroke-linecap="round"/>
<path d="M161.5,425 Q160,411 173.75,407.7 Q184,406.5 186.5,413 L187.3,423.3 L186.5,430 L187.5,434 L186,438.5 Q184,440.5 181,440 L182.5,443.5 L192,442.5 L194.6,445.2 L199.2,455.5 L196.2,460.8 L197.5,468 L201,474 L210.3,485.5 L217.3,495 L222.5,503.5 L219,507.5 L212.8,500 L196.7,486 L198.75,514 L197.7,520 L192.5,542.5 L187.3,557 L187.3,586 L194,591.5 Q198.5,596 197.5,600 Q195,602.5 190,600.5 L177.5,593 L178.5,600 Q179,604.5 174.5,605 Q170,604.5 164.4,597 L163.3,586.25 L163.3,571.7 L170.6,553 L161.25,520.2 L163,530 Q162.5,536.5 160,537 Q156.5,535 155.5,528 L155.5,524.4 L152.6,510.3 L149.6,492.7 L148.5,476 L147.7,471.25 Q148,458 153,452.5 L163,444 L165.5,437 Q162,432 161.5,425 Z" fill="#ffffff" stroke="#0a3d56" stroke-width="1.5" stroke-linejoin="round"/>
<path d="M170.5,427 Q172,415.5 185.5,414 M170.5,427 Q166.5,425 167.5,430.5 Q168.5,433 171,432.5 Q172,437 181,440 M165.5,437 Q168,433 167.5,430.5" fill="none" stroke="#0a3d56" stroke-width="0.8"/>
<path d="M178.5,423.5 L180,423 L179.5,424.8 M184.7,422.5 L186,422.3 M183,424 L184.5,429.5 L183,430" fill="none" stroke="#0a3d56" stroke-width="0.7"/>
<path d="M163,444 Q168,456 179,456 Q186,455 184,443" fill="none" stroke="#0a3d56" stroke-width="0.8"/>
<path d="M147.7,471.25 L159,475 Q162,462 156,451.5 M192.5,443.5 Q196,452 196.2,460.8" fill="none" stroke="#0a3d56" stroke-width="0.8"/>
<path d="M159,475 L161.25,520.2 Q180,520.5 198.75,514 M196.2,460.8 L196.7,486" fill="none" stroke="#0a3d56" stroke-width="0.8"/>
<path d="M184.5,527 L186.5,552 L176,575 L176.9,592.5 M163.3,586.25 L176.9,588 M176.9,588 L187.3,586" fill="none" stroke="#0a3d56" stroke-width="0.8"/>
<path d="M175.2,578 L176.2,588" fill="none" stroke="#000" stroke-width="1.2"/>
<path d="M200.2,534 Q200.4,530 203,528.4 L212,524.3 L220,523 L226.8,525.2 L238.5,532.2 Q245.5,536.8 246.7,546 L247,559 L246.6,590 Q246.5,593.5 243.5,595 L228.1,602.3 L224.9,603.8 L222.5,601 L206.6,592.6 L203.4,591.3 L201.8,588.6 L200.1,587.5 Z" fill="#ffffff" stroke="#0a3d56" stroke-width="1.6" stroke-linejoin="round"/>
<path d="M202.5,529.5 L223,538.3 Q229.5,541.5 230,552 L231,600.5 M209,525.8 L228,534 Q237,538.5 237.8,550 L238.8,597" fill="none" stroke="#0a3d56" stroke-width="0.8"/>
<path d="M203.5,586.5 L205.5,585.3 L221,593.5 L223,597.8" fill="none" stroke="#0a3d56" stroke-width="0.8"/>
<ellipse cx="239.7" cy="567" rx="1.2" ry="1.8" fill="#ffffff" stroke="#0a3d56" stroke-width="0.7"/>
<polygon points="212.6,505 225.3,512.3 225.3,535.8 222.4,535.2 215.5,530.2 212.6,529.5" fill="#ffffff" stroke="#0a3d56" stroke-width="1"/>
<path d="M215.5,508 L215.5,530.2 M222.4,512 L222.4,535.2 M215.5,522.5 L222.4,523.5 M215.5,525.5 L222.4,528.8" fill="none" stroke="#0a3d56" stroke-width="0.8"/>
<path d="M211,508.5 L211,503.5 Q211.5,501 214.5,501.3 Q217.3,502 217.4,505 L217.3,508.5 L215.3,509.5 L215.3,505.5 L213.2,505.3 L213.2,509.8 Z" fill="#ffffff" stroke="#0a3d56" stroke-width="1.2" stroke-linejoin="round"/>
<path d="M219.4,506.5 L221,504.6 L228.3,508.3 L228.7,512.5 L226.3,514.5 L222.5,513 L222.2,509.5 L219.4,508 Z" fill="#ffffff" stroke="#0a3d56" stroke-width="1.2" stroke-linejoin="round"/>
<path d="M224.2,510.5 L224.4,513.8 M226,511.2 L226.2,514.3" fill="none" stroke="#0a3d56" stroke-width="0.6"/>
<line x1="363.6" y1="403.5" x2="444.2" y2="533.3" stroke="#0a3d56" stroke-width="3.6"/>
<line x1="363.6" y1="403.5" x2="444.0" y2="533.0" stroke="#ffffff" stroke-width="1.6"/>
<path d="M329.3,325.2 Q329.5,319.5 339.3,317.6 Q348,316.6 353.9,320 Q358.6,322.5 358.3,325.8 L357.5,329.3 L355.1,329.7 L355.1,332.9 L355.5,337 L354.5,339.3 L353.6,340.7 L353.9,343.4 Q351.5,346.5 347.5,347.5 L355.1,346.9 Q358.5,349 359.8,359.2 L360.6,381.5 L366.8,393.4 L371,392.2 L377.4,392.2 Q380.8,394.5 380.6,397.2 L377.6,398.2 L372.3,398.4 L371.5,401 L371,403.2 L364.5,404.4 L361,405.3 L365.5,435.1 L368.2,450.7 L368.2,459.8 L340.6,472 Q337,484 334.6,508.8 L341,514 Q345.5,518 344,521.3 Q342,523 338.5,521.8 L325.2,513.4 L324.3,410.4 L321.9,409 L320.6,386.9 L318.7,382.4 Q321,366 331,358 L338.1,352.2 L337.5,345.2 Q331.5,337 329.9,329.9 Z" fill="#ffffff" stroke="#0a3d56" stroke-width="1.4" stroke-linejoin="round"/>
<path d="M359.7,380 L359.4,392.5 M360.1,386 L360.3,392 L364.5,397.3 L372,398.4" fill="none" stroke="#0a3d56" stroke-width="1.1"/>
<path d="M345,402.3 L355.4,402.3 L359,399.1 L361.5,400.7 L371,401.2" fill="none" stroke="#0a3d56" stroke-width="0.9"/>
<circle cx="358.8" cy="395.3" r="1.3" fill="#ffffff" stroke="#0a3d56" stroke-width="0.7"/>
<polygon points="344.7,439 353.2,450.7 341.5,456.5" fill="#000" stroke="#0a3d56" stroke-width="1.2" stroke-linejoin="round"/>
<ellipse cx="347.7" cy="335.8" rx="2.8" ry="1.9" fill="#1c4158"/>
<ellipse cx="353.4" cy="335.3" rx="1.9" ry="1.3" fill="#1c4158"/>
<path d="M340.7,333.6 L345.2,334.8 L355,334.3" stroke="#1c4158" stroke-width="1" fill="none"/>
<path d="M357.5,329.3 L354.5,327.6 Q349.8,325.8 345.2,327.6 L342.8,330.9 L341.6,327.6 L340.7,331.7 L339.3,333.4 L336.4,334 Q335.5,337 336.4,339.3 L338.7,343.4 Q343,347.5 347.5,347.5" fill="none" stroke="#0a3d56" stroke-width="0.8"/>
<path d="M338.1,352.2 Q343,355 347.5,353.4 L347.5,347.5" fill="none" stroke="#0a3d56" stroke-width="0.8"/>
<path d="M318.7,382.4 Q322,386.5 328.5,388.5 L328.2,401.9 L345,402.3 M321.9,409 L361,404.8 M324.3,427 Q345,428 361.5,411.5 M340.2,458 L337.2,470 L336.5,480" fill="none" stroke="#0a3d56" stroke-width="0.8"/>
<line x1="3.1" y1="573.8" x2="207.7" y2="728.5" stroke="#f15676" stroke-width="2.3" stroke-dasharray="4.6 2.2"/>
<g transform="translate(153.3 687.6) rotate(37.0)"><polygon points="-5.5,0 -1.5,-3.6 0,-1.2 1.5,-3.6 5.5,0 1.5,3.6 0,1.2 -1.5,3.6" fill="#f15676" stroke="#f15676" stroke-width="1" stroke-linejoin="round"/></g>
<g transform="translate(189.1 714.2) rotate(37.0)"><polygon points="-5.5,0 -1.5,-3.6 0,-1.2 1.5,-3.6 5.5,0 1.5,3.6 0,1.2 -1.5,3.6" fill="#f15676" stroke="#f15676" stroke-width="1" stroke-linejoin="round"/></g>
<line x1="0.3" y1="576.8" x2="5.2" y2="570.3" stroke="#f15676" stroke-width="2.2"/>
<line x1="205" y1="733.5" x2="210" y2="724.5" stroke="#f15676" stroke-width="2"/>
<text x="140.5" y="136.8" transform="rotate(-27.6 140.5 136.8)" font-family="Liberation Sans, sans-serif" font-weight="bold" font-size="14" fill="#f15676" stroke="#f15676" stroke-width="1.0" stroke-linejoin="round" textLength="127" lengthAdjust="spacingAndGlyphs">large-font signage</text>
<text x="213" y="265" transform="rotate(-14 213 265)" font-family="Liberation Sans, sans-serif" font-weight="bold" font-size="13.5" fill="#f15676" stroke="#f15676" stroke-width="1.0" stroke-linejoin="round" textLength="89" lengthAdjust="spacingAndGlyphs">well-lit areas</text>
<text x="448" y="506" transform="rotate(-32 448 506)" font-family="Liberation Sans, sans-serif" font-weight="bold" font-size="15" fill="#f15676" stroke="#f15676" stroke-width="1.0" stroke-linejoin="round" textLength="95" lengthAdjust="spacingAndGlyphs">tactile paving</text>
<text x="46.8" y="586.6" transform="rotate(36.7 46.8 586.6)" font-family="Liberation Sans, sans-serif" font-weight="bold" font-size="15.5" fill="#f15676" stroke="#f15676" stroke-width="1.0" stroke-linejoin="round" textLength="128" lengthAdjust="spacingAndGlyphs">SAFE PATHWAYS</text>
<text x="38" y="668.5" transform="rotate(-49 38 668.5)" font-family="Liberation Sans, sans-serif" font-weight="bold" font-size="15" fill="#f15676" stroke="#f15676" stroke-width="1.0" stroke-linejoin="round" textLength="45" lengthAdjust="spacingAndGlyphs">76 cm</text>
<text x="141" y="742.5" transform="rotate(-48.5 141 742.5)" font-family="Liberation Sans, sans-serif" font-weight="bold" font-size="15" fill="#f15676" stroke="#f15676" stroke-width="1.0" stroke-linejoin="round" textLength="45" lengthAdjust="spacingAndGlyphs">40 cm</text>
<text x="169.2" y="764.7" transform="rotate(-47.5 169.2 764.7)" font-family="Liberation Sans, sans-serif" font-weight="bold" font-size="15" fill="#f15676" stroke="#f15676" stroke-width="1.0" stroke-linejoin="round" textLength="45" lengthAdjust="spacingAndGlyphs">10 cm</text>
</svg>
</body></html>
